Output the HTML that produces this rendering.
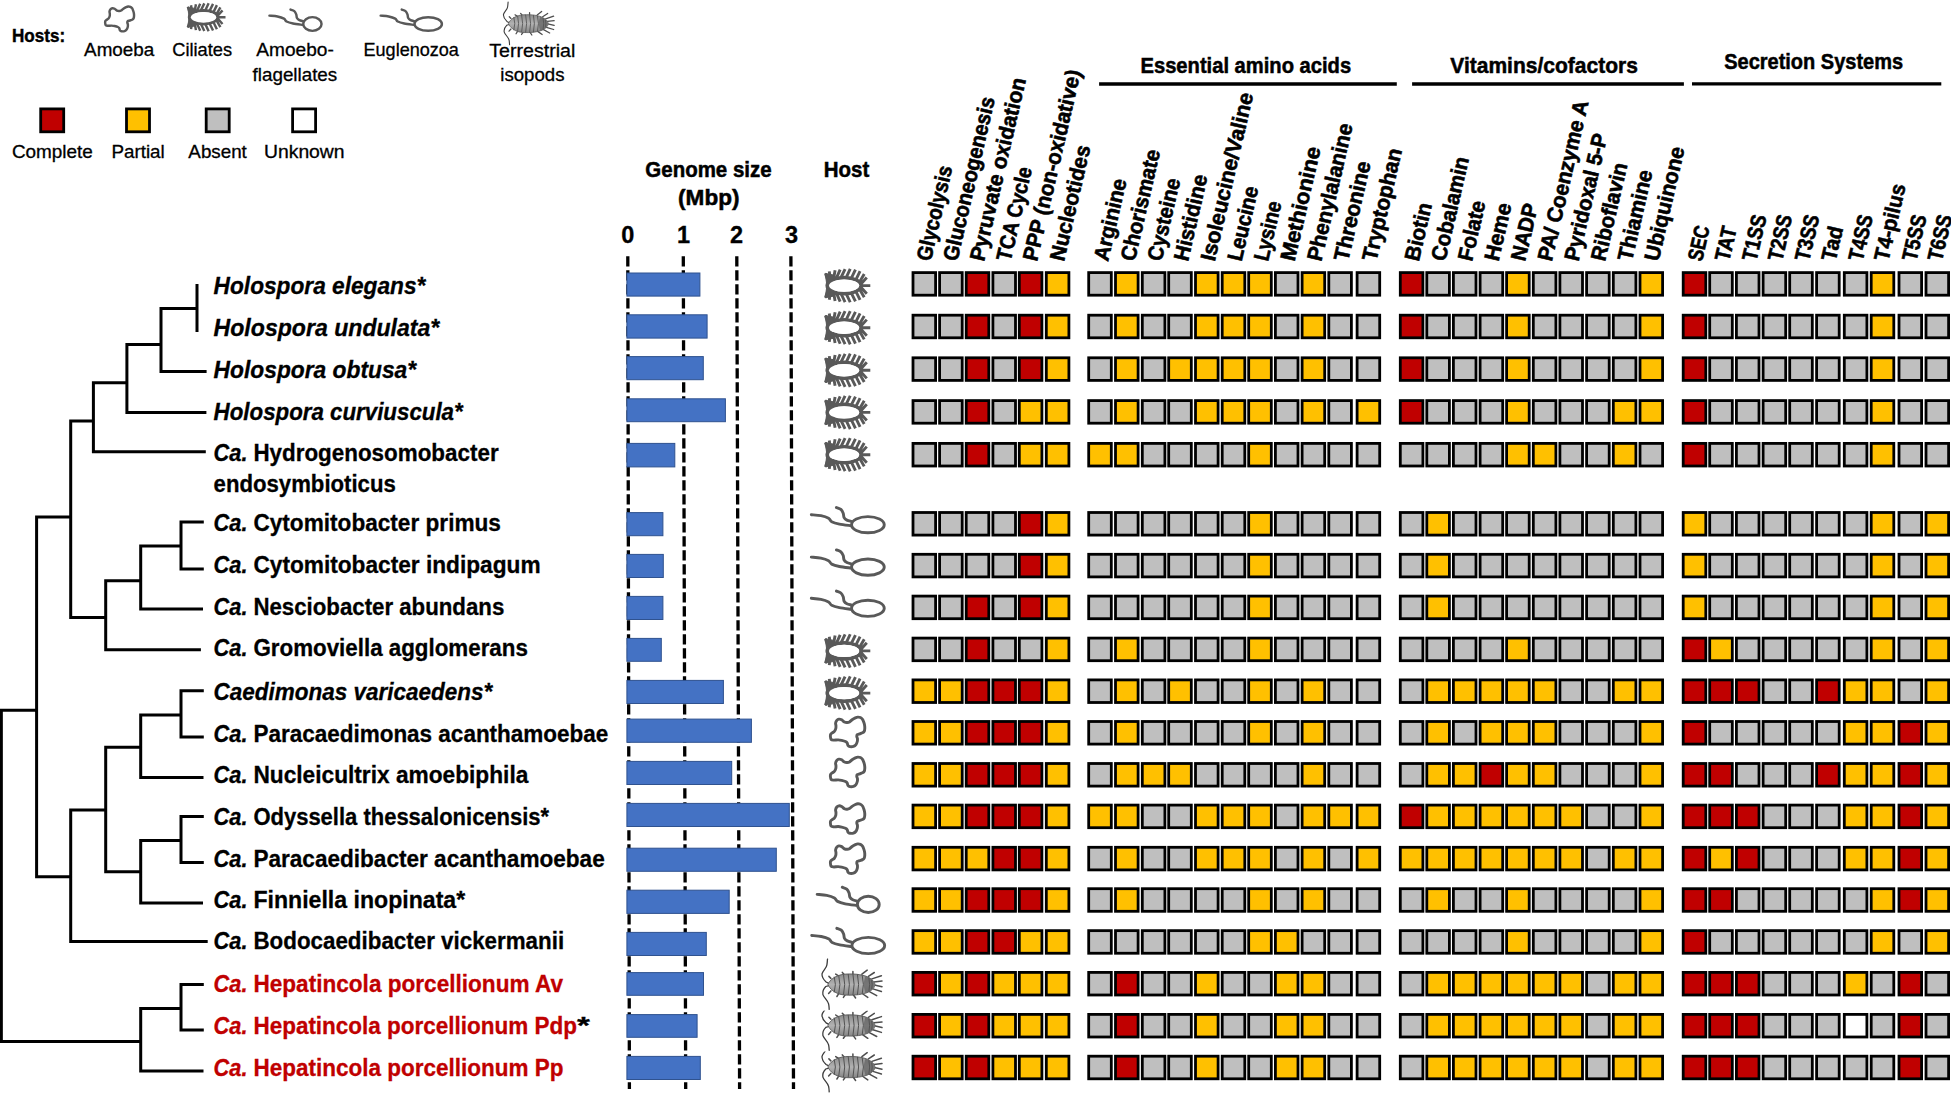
<!DOCTYPE html>
<html lang="en"><head><meta charset="utf-8"><title>Genome size, host and metabolic capability matrix</title>
<style>html,body{margin:0;padding:0;background:#fff}svg{display:block}</style></head>
<body>
<svg width="1951" height="1095" viewBox="0 0 1951 1095" font-family="'Liberation Sans', Arial, sans-serif">
<rect width="1951" height="1095" fill="#fff"/>
<g stroke="#000" stroke-width="2.80">
<rect x="913.00" y="272.60" width="22.60" height="22.60" fill="#BFBFBF"/>
<rect x="939.60" y="272.60" width="22.60" height="22.60" fill="#BFBFBF"/>
<rect x="966.20" y="272.60" width="22.60" height="22.60" fill="#C00000"/>
<rect x="992.90" y="272.60" width="22.60" height="22.60" fill="#BFBFBF"/>
<rect x="1019.30" y="272.60" width="22.60" height="22.60" fill="#C00000"/>
<rect x="1046.30" y="272.60" width="22.60" height="22.60" fill="#FFC000"/>
<rect x="1088.70" y="272.60" width="22.60" height="22.60" fill="#BFBFBF"/>
<rect x="1115.50" y="272.60" width="22.60" height="22.60" fill="#FFC000"/>
<rect x="1142.30" y="272.60" width="22.60" height="22.60" fill="#BFBFBF"/>
<rect x="1168.70" y="272.60" width="22.60" height="22.60" fill="#BFBFBF"/>
<rect x="1195.50" y="272.60" width="22.60" height="22.60" fill="#FFC000"/>
<rect x="1222.20" y="272.60" width="22.60" height="22.60" fill="#FFC000"/>
<rect x="1248.70" y="272.60" width="22.60" height="22.60" fill="#FFC000"/>
<rect x="1275.40" y="272.60" width="22.60" height="22.60" fill="#BFBFBF"/>
<rect x="1302.10" y="272.60" width="22.60" height="22.60" fill="#FFC000"/>
<rect x="1328.80" y="272.60" width="22.60" height="22.60" fill="#BFBFBF"/>
<rect x="1357.10" y="272.60" width="22.60" height="22.60" fill="#BFBFBF"/>
<rect x="1400.30" y="272.60" width="22.60" height="22.60" fill="#C00000"/>
<rect x="1426.80" y="272.60" width="22.60" height="22.60" fill="#BFBFBF"/>
<rect x="1453.40" y="272.60" width="22.60" height="22.60" fill="#BFBFBF"/>
<rect x="1480.10" y="272.60" width="22.60" height="22.60" fill="#BFBFBF"/>
<rect x="1506.60" y="272.60" width="22.60" height="22.60" fill="#FFC000"/>
<rect x="1533.30" y="272.60" width="22.60" height="22.60" fill="#BFBFBF"/>
<rect x="1559.90" y="272.60" width="22.60" height="22.60" fill="#BFBFBF"/>
<rect x="1586.60" y="272.60" width="22.60" height="22.60" fill="#BFBFBF"/>
<rect x="1613.30" y="272.60" width="22.60" height="22.60" fill="#BFBFBF"/>
<rect x="1640.00" y="272.60" width="22.60" height="22.60" fill="#FFC000"/>
<rect x="1683.20" y="272.60" width="22.60" height="22.60" fill="#C00000"/>
<rect x="1709.70" y="272.60" width="22.60" height="22.60" fill="#BFBFBF"/>
<rect x="1736.40" y="272.60" width="22.60" height="22.60" fill="#BFBFBF"/>
<rect x="1763.10" y="272.60" width="22.60" height="22.60" fill="#BFBFBF"/>
<rect x="1789.70" y="272.60" width="22.60" height="22.60" fill="#BFBFBF"/>
<rect x="1816.60" y="272.60" width="22.60" height="22.60" fill="#BFBFBF"/>
<rect x="1844.30" y="272.60" width="22.60" height="22.60" fill="#BFBFBF"/>
<rect x="1871.20" y="272.60" width="22.60" height="22.60" fill="#FFC000"/>
<rect x="1899.00" y="272.60" width="22.60" height="22.60" fill="#BFBFBF"/>
<rect x="1926.00" y="272.60" width="22.60" height="22.60" fill="#BFBFBF"/>
<rect x="913.00" y="315.20" width="22.60" height="22.60" fill="#BFBFBF"/>
<rect x="939.60" y="315.20" width="22.60" height="22.60" fill="#BFBFBF"/>
<rect x="966.20" y="315.20" width="22.60" height="22.60" fill="#C00000"/>
<rect x="992.90" y="315.20" width="22.60" height="22.60" fill="#BFBFBF"/>
<rect x="1019.30" y="315.20" width="22.60" height="22.60" fill="#C00000"/>
<rect x="1046.30" y="315.20" width="22.60" height="22.60" fill="#FFC000"/>
<rect x="1088.70" y="315.20" width="22.60" height="22.60" fill="#BFBFBF"/>
<rect x="1115.50" y="315.20" width="22.60" height="22.60" fill="#FFC000"/>
<rect x="1142.30" y="315.20" width="22.60" height="22.60" fill="#BFBFBF"/>
<rect x="1168.70" y="315.20" width="22.60" height="22.60" fill="#BFBFBF"/>
<rect x="1195.50" y="315.20" width="22.60" height="22.60" fill="#FFC000"/>
<rect x="1222.20" y="315.20" width="22.60" height="22.60" fill="#FFC000"/>
<rect x="1248.70" y="315.20" width="22.60" height="22.60" fill="#FFC000"/>
<rect x="1275.40" y="315.20" width="22.60" height="22.60" fill="#BFBFBF"/>
<rect x="1302.10" y="315.20" width="22.60" height="22.60" fill="#FFC000"/>
<rect x="1328.80" y="315.20" width="22.60" height="22.60" fill="#BFBFBF"/>
<rect x="1357.10" y="315.20" width="22.60" height="22.60" fill="#BFBFBF"/>
<rect x="1400.30" y="315.20" width="22.60" height="22.60" fill="#C00000"/>
<rect x="1426.80" y="315.20" width="22.60" height="22.60" fill="#BFBFBF"/>
<rect x="1453.40" y="315.20" width="22.60" height="22.60" fill="#BFBFBF"/>
<rect x="1480.10" y="315.20" width="22.60" height="22.60" fill="#BFBFBF"/>
<rect x="1506.60" y="315.20" width="22.60" height="22.60" fill="#FFC000"/>
<rect x="1533.30" y="315.20" width="22.60" height="22.60" fill="#BFBFBF"/>
<rect x="1559.90" y="315.20" width="22.60" height="22.60" fill="#BFBFBF"/>
<rect x="1586.60" y="315.20" width="22.60" height="22.60" fill="#BFBFBF"/>
<rect x="1613.30" y="315.20" width="22.60" height="22.60" fill="#BFBFBF"/>
<rect x="1640.00" y="315.20" width="22.60" height="22.60" fill="#FFC000"/>
<rect x="1683.20" y="315.20" width="22.60" height="22.60" fill="#C00000"/>
<rect x="1709.70" y="315.20" width="22.60" height="22.60" fill="#BFBFBF"/>
<rect x="1736.40" y="315.20" width="22.60" height="22.60" fill="#BFBFBF"/>
<rect x="1763.10" y="315.20" width="22.60" height="22.60" fill="#BFBFBF"/>
<rect x="1789.70" y="315.20" width="22.60" height="22.60" fill="#BFBFBF"/>
<rect x="1816.60" y="315.20" width="22.60" height="22.60" fill="#BFBFBF"/>
<rect x="1844.30" y="315.20" width="22.60" height="22.60" fill="#BFBFBF"/>
<rect x="1871.20" y="315.20" width="22.60" height="22.60" fill="#FFC000"/>
<rect x="1899.00" y="315.20" width="22.60" height="22.60" fill="#BFBFBF"/>
<rect x="1926.00" y="315.20" width="22.60" height="22.60" fill="#BFBFBF"/>
<rect x="913.00" y="357.80" width="22.60" height="22.60" fill="#BFBFBF"/>
<rect x="939.60" y="357.80" width="22.60" height="22.60" fill="#BFBFBF"/>
<rect x="966.20" y="357.80" width="22.60" height="22.60" fill="#C00000"/>
<rect x="992.90" y="357.80" width="22.60" height="22.60" fill="#BFBFBF"/>
<rect x="1019.30" y="357.80" width="22.60" height="22.60" fill="#C00000"/>
<rect x="1046.30" y="357.80" width="22.60" height="22.60" fill="#FFC000"/>
<rect x="1088.70" y="357.80" width="22.60" height="22.60" fill="#BFBFBF"/>
<rect x="1115.50" y="357.80" width="22.60" height="22.60" fill="#FFC000"/>
<rect x="1142.30" y="357.80" width="22.60" height="22.60" fill="#BFBFBF"/>
<rect x="1168.70" y="357.80" width="22.60" height="22.60" fill="#FFC000"/>
<rect x="1195.50" y="357.80" width="22.60" height="22.60" fill="#FFC000"/>
<rect x="1222.20" y="357.80" width="22.60" height="22.60" fill="#FFC000"/>
<rect x="1248.70" y="357.80" width="22.60" height="22.60" fill="#FFC000"/>
<rect x="1275.40" y="357.80" width="22.60" height="22.60" fill="#BFBFBF"/>
<rect x="1302.10" y="357.80" width="22.60" height="22.60" fill="#FFC000"/>
<rect x="1328.80" y="357.80" width="22.60" height="22.60" fill="#BFBFBF"/>
<rect x="1357.10" y="357.80" width="22.60" height="22.60" fill="#BFBFBF"/>
<rect x="1400.30" y="357.80" width="22.60" height="22.60" fill="#C00000"/>
<rect x="1426.80" y="357.80" width="22.60" height="22.60" fill="#BFBFBF"/>
<rect x="1453.40" y="357.80" width="22.60" height="22.60" fill="#BFBFBF"/>
<rect x="1480.10" y="357.80" width="22.60" height="22.60" fill="#BFBFBF"/>
<rect x="1506.60" y="357.80" width="22.60" height="22.60" fill="#FFC000"/>
<rect x="1533.30" y="357.80" width="22.60" height="22.60" fill="#BFBFBF"/>
<rect x="1559.90" y="357.80" width="22.60" height="22.60" fill="#BFBFBF"/>
<rect x="1586.60" y="357.80" width="22.60" height="22.60" fill="#BFBFBF"/>
<rect x="1613.30" y="357.80" width="22.60" height="22.60" fill="#BFBFBF"/>
<rect x="1640.00" y="357.80" width="22.60" height="22.60" fill="#FFC000"/>
<rect x="1683.20" y="357.80" width="22.60" height="22.60" fill="#C00000"/>
<rect x="1709.70" y="357.80" width="22.60" height="22.60" fill="#BFBFBF"/>
<rect x="1736.40" y="357.80" width="22.60" height="22.60" fill="#BFBFBF"/>
<rect x="1763.10" y="357.80" width="22.60" height="22.60" fill="#BFBFBF"/>
<rect x="1789.70" y="357.80" width="22.60" height="22.60" fill="#BFBFBF"/>
<rect x="1816.60" y="357.80" width="22.60" height="22.60" fill="#BFBFBF"/>
<rect x="1844.30" y="357.80" width="22.60" height="22.60" fill="#BFBFBF"/>
<rect x="1871.20" y="357.80" width="22.60" height="22.60" fill="#FFC000"/>
<rect x="1899.00" y="357.80" width="22.60" height="22.60" fill="#BFBFBF"/>
<rect x="1926.00" y="357.80" width="22.60" height="22.60" fill="#BFBFBF"/>
<rect x="913.00" y="400.60" width="22.60" height="22.60" fill="#BFBFBF"/>
<rect x="939.60" y="400.60" width="22.60" height="22.60" fill="#BFBFBF"/>
<rect x="966.20" y="400.60" width="22.60" height="22.60" fill="#C00000"/>
<rect x="992.90" y="400.60" width="22.60" height="22.60" fill="#BFBFBF"/>
<rect x="1019.30" y="400.60" width="22.60" height="22.60" fill="#FFC000"/>
<rect x="1046.30" y="400.60" width="22.60" height="22.60" fill="#FFC000"/>
<rect x="1088.70" y="400.60" width="22.60" height="22.60" fill="#BFBFBF"/>
<rect x="1115.50" y="400.60" width="22.60" height="22.60" fill="#FFC000"/>
<rect x="1142.30" y="400.60" width="22.60" height="22.60" fill="#BFBFBF"/>
<rect x="1168.70" y="400.60" width="22.60" height="22.60" fill="#BFBFBF"/>
<rect x="1195.50" y="400.60" width="22.60" height="22.60" fill="#FFC000"/>
<rect x="1222.20" y="400.60" width="22.60" height="22.60" fill="#FFC000"/>
<rect x="1248.70" y="400.60" width="22.60" height="22.60" fill="#FFC000"/>
<rect x="1275.40" y="400.60" width="22.60" height="22.60" fill="#BFBFBF"/>
<rect x="1302.10" y="400.60" width="22.60" height="22.60" fill="#FFC000"/>
<rect x="1328.80" y="400.60" width="22.60" height="22.60" fill="#BFBFBF"/>
<rect x="1357.10" y="400.60" width="22.60" height="22.60" fill="#FFC000"/>
<rect x="1400.30" y="400.60" width="22.60" height="22.60" fill="#C00000"/>
<rect x="1426.80" y="400.60" width="22.60" height="22.60" fill="#BFBFBF"/>
<rect x="1453.40" y="400.60" width="22.60" height="22.60" fill="#BFBFBF"/>
<rect x="1480.10" y="400.60" width="22.60" height="22.60" fill="#BFBFBF"/>
<rect x="1506.60" y="400.60" width="22.60" height="22.60" fill="#FFC000"/>
<rect x="1533.30" y="400.60" width="22.60" height="22.60" fill="#BFBFBF"/>
<rect x="1559.90" y="400.60" width="22.60" height="22.60" fill="#BFBFBF"/>
<rect x="1586.60" y="400.60" width="22.60" height="22.60" fill="#BFBFBF"/>
<rect x="1613.30" y="400.60" width="22.60" height="22.60" fill="#FFC000"/>
<rect x="1640.00" y="400.60" width="22.60" height="22.60" fill="#FFC000"/>
<rect x="1683.20" y="400.60" width="22.60" height="22.60" fill="#C00000"/>
<rect x="1709.70" y="400.60" width="22.60" height="22.60" fill="#BFBFBF"/>
<rect x="1736.40" y="400.60" width="22.60" height="22.60" fill="#BFBFBF"/>
<rect x="1763.10" y="400.60" width="22.60" height="22.60" fill="#BFBFBF"/>
<rect x="1789.70" y="400.60" width="22.60" height="22.60" fill="#BFBFBF"/>
<rect x="1816.60" y="400.60" width="22.60" height="22.60" fill="#BFBFBF"/>
<rect x="1844.30" y="400.60" width="22.60" height="22.60" fill="#BFBFBF"/>
<rect x="1871.20" y="400.60" width="22.60" height="22.60" fill="#FFC000"/>
<rect x="1899.00" y="400.60" width="22.60" height="22.60" fill="#BFBFBF"/>
<rect x="1926.00" y="400.60" width="22.60" height="22.60" fill="#BFBFBF"/>
<rect x="913.00" y="443.40" width="22.60" height="22.60" fill="#BFBFBF"/>
<rect x="939.60" y="443.40" width="22.60" height="22.60" fill="#BFBFBF"/>
<rect x="966.20" y="443.40" width="22.60" height="22.60" fill="#C00000"/>
<rect x="992.90" y="443.40" width="22.60" height="22.60" fill="#BFBFBF"/>
<rect x="1019.30" y="443.40" width="22.60" height="22.60" fill="#FFC000"/>
<rect x="1046.30" y="443.40" width="22.60" height="22.60" fill="#FFC000"/>
<rect x="1088.70" y="443.40" width="22.60" height="22.60" fill="#FFC000"/>
<rect x="1115.50" y="443.40" width="22.60" height="22.60" fill="#FFC000"/>
<rect x="1142.30" y="443.40" width="22.60" height="22.60" fill="#BFBFBF"/>
<rect x="1168.70" y="443.40" width="22.60" height="22.60" fill="#BFBFBF"/>
<rect x="1195.50" y="443.40" width="22.60" height="22.60" fill="#BFBFBF"/>
<rect x="1222.20" y="443.40" width="22.60" height="22.60" fill="#BFBFBF"/>
<rect x="1248.70" y="443.40" width="22.60" height="22.60" fill="#FFC000"/>
<rect x="1275.40" y="443.40" width="22.60" height="22.60" fill="#BFBFBF"/>
<rect x="1302.10" y="443.40" width="22.60" height="22.60" fill="#BFBFBF"/>
<rect x="1328.80" y="443.40" width="22.60" height="22.60" fill="#BFBFBF"/>
<rect x="1357.10" y="443.40" width="22.60" height="22.60" fill="#BFBFBF"/>
<rect x="1400.30" y="443.40" width="22.60" height="22.60" fill="#BFBFBF"/>
<rect x="1426.80" y="443.40" width="22.60" height="22.60" fill="#BFBFBF"/>
<rect x="1453.40" y="443.40" width="22.60" height="22.60" fill="#BFBFBF"/>
<rect x="1480.10" y="443.40" width="22.60" height="22.60" fill="#BFBFBF"/>
<rect x="1506.60" y="443.40" width="22.60" height="22.60" fill="#FFC000"/>
<rect x="1533.30" y="443.40" width="22.60" height="22.60" fill="#FFC000"/>
<rect x="1559.90" y="443.40" width="22.60" height="22.60" fill="#BFBFBF"/>
<rect x="1586.60" y="443.40" width="22.60" height="22.60" fill="#BFBFBF"/>
<rect x="1613.30" y="443.40" width="22.60" height="22.60" fill="#FFC000"/>
<rect x="1640.00" y="443.40" width="22.60" height="22.60" fill="#BFBFBF"/>
<rect x="1683.20" y="443.40" width="22.60" height="22.60" fill="#C00000"/>
<rect x="1709.70" y="443.40" width="22.60" height="22.60" fill="#BFBFBF"/>
<rect x="1736.40" y="443.40" width="22.60" height="22.60" fill="#BFBFBF"/>
<rect x="1763.10" y="443.40" width="22.60" height="22.60" fill="#BFBFBF"/>
<rect x="1789.70" y="443.40" width="22.60" height="22.60" fill="#BFBFBF"/>
<rect x="1816.60" y="443.40" width="22.60" height="22.60" fill="#BFBFBF"/>
<rect x="1844.30" y="443.40" width="22.60" height="22.60" fill="#BFBFBF"/>
<rect x="1871.20" y="443.40" width="22.60" height="22.60" fill="#FFC000"/>
<rect x="1899.00" y="443.40" width="22.60" height="22.60" fill="#BFBFBF"/>
<rect x="1926.00" y="443.40" width="22.60" height="22.60" fill="#BFBFBF"/>
<rect x="913.00" y="512.50" width="22.60" height="22.60" fill="#BFBFBF"/>
<rect x="939.60" y="512.50" width="22.60" height="22.60" fill="#BFBFBF"/>
<rect x="966.20" y="512.50" width="22.60" height="22.60" fill="#BFBFBF"/>
<rect x="992.90" y="512.50" width="22.60" height="22.60" fill="#BFBFBF"/>
<rect x="1019.30" y="512.50" width="22.60" height="22.60" fill="#C00000"/>
<rect x="1046.30" y="512.50" width="22.60" height="22.60" fill="#FFC000"/>
<rect x="1088.70" y="512.50" width="22.60" height="22.60" fill="#BFBFBF"/>
<rect x="1115.50" y="512.50" width="22.60" height="22.60" fill="#BFBFBF"/>
<rect x="1142.30" y="512.50" width="22.60" height="22.60" fill="#BFBFBF"/>
<rect x="1168.70" y="512.50" width="22.60" height="22.60" fill="#BFBFBF"/>
<rect x="1195.50" y="512.50" width="22.60" height="22.60" fill="#BFBFBF"/>
<rect x="1222.20" y="512.50" width="22.60" height="22.60" fill="#BFBFBF"/>
<rect x="1248.70" y="512.50" width="22.60" height="22.60" fill="#FFC000"/>
<rect x="1275.40" y="512.50" width="22.60" height="22.60" fill="#BFBFBF"/>
<rect x="1302.10" y="512.50" width="22.60" height="22.60" fill="#BFBFBF"/>
<rect x="1328.80" y="512.50" width="22.60" height="22.60" fill="#BFBFBF"/>
<rect x="1357.10" y="512.50" width="22.60" height="22.60" fill="#BFBFBF"/>
<rect x="1400.30" y="512.50" width="22.60" height="22.60" fill="#BFBFBF"/>
<rect x="1426.80" y="512.50" width="22.60" height="22.60" fill="#FFC000"/>
<rect x="1453.40" y="512.50" width="22.60" height="22.60" fill="#BFBFBF"/>
<rect x="1480.10" y="512.50" width="22.60" height="22.60" fill="#BFBFBF"/>
<rect x="1506.60" y="512.50" width="22.60" height="22.60" fill="#BFBFBF"/>
<rect x="1533.30" y="512.50" width="22.60" height="22.60" fill="#BFBFBF"/>
<rect x="1559.90" y="512.50" width="22.60" height="22.60" fill="#BFBFBF"/>
<rect x="1586.60" y="512.50" width="22.60" height="22.60" fill="#BFBFBF"/>
<rect x="1613.30" y="512.50" width="22.60" height="22.60" fill="#BFBFBF"/>
<rect x="1640.00" y="512.50" width="22.60" height="22.60" fill="#BFBFBF"/>
<rect x="1683.20" y="512.50" width="22.60" height="22.60" fill="#FFC000"/>
<rect x="1709.70" y="512.50" width="22.60" height="22.60" fill="#BFBFBF"/>
<rect x="1736.40" y="512.50" width="22.60" height="22.60" fill="#BFBFBF"/>
<rect x="1763.10" y="512.50" width="22.60" height="22.60" fill="#BFBFBF"/>
<rect x="1789.70" y="512.50" width="22.60" height="22.60" fill="#BFBFBF"/>
<rect x="1816.60" y="512.50" width="22.60" height="22.60" fill="#BFBFBF"/>
<rect x="1844.30" y="512.50" width="22.60" height="22.60" fill="#BFBFBF"/>
<rect x="1871.20" y="512.50" width="22.60" height="22.60" fill="#FFC000"/>
<rect x="1899.00" y="512.50" width="22.60" height="22.60" fill="#BFBFBF"/>
<rect x="1926.00" y="512.50" width="22.60" height="22.60" fill="#FFC000"/>
<rect x="913.00" y="554.30" width="22.60" height="22.60" fill="#BFBFBF"/>
<rect x="939.60" y="554.30" width="22.60" height="22.60" fill="#BFBFBF"/>
<rect x="966.20" y="554.30" width="22.60" height="22.60" fill="#BFBFBF"/>
<rect x="992.90" y="554.30" width="22.60" height="22.60" fill="#BFBFBF"/>
<rect x="1019.30" y="554.30" width="22.60" height="22.60" fill="#C00000"/>
<rect x="1046.30" y="554.30" width="22.60" height="22.60" fill="#FFC000"/>
<rect x="1088.70" y="554.30" width="22.60" height="22.60" fill="#BFBFBF"/>
<rect x="1115.50" y="554.30" width="22.60" height="22.60" fill="#BFBFBF"/>
<rect x="1142.30" y="554.30" width="22.60" height="22.60" fill="#BFBFBF"/>
<rect x="1168.70" y="554.30" width="22.60" height="22.60" fill="#BFBFBF"/>
<rect x="1195.50" y="554.30" width="22.60" height="22.60" fill="#BFBFBF"/>
<rect x="1222.20" y="554.30" width="22.60" height="22.60" fill="#BFBFBF"/>
<rect x="1248.70" y="554.30" width="22.60" height="22.60" fill="#FFC000"/>
<rect x="1275.40" y="554.30" width="22.60" height="22.60" fill="#BFBFBF"/>
<rect x="1302.10" y="554.30" width="22.60" height="22.60" fill="#BFBFBF"/>
<rect x="1328.80" y="554.30" width="22.60" height="22.60" fill="#BFBFBF"/>
<rect x="1357.10" y="554.30" width="22.60" height="22.60" fill="#BFBFBF"/>
<rect x="1400.30" y="554.30" width="22.60" height="22.60" fill="#BFBFBF"/>
<rect x="1426.80" y="554.30" width="22.60" height="22.60" fill="#FFC000"/>
<rect x="1453.40" y="554.30" width="22.60" height="22.60" fill="#BFBFBF"/>
<rect x="1480.10" y="554.30" width="22.60" height="22.60" fill="#BFBFBF"/>
<rect x="1506.60" y="554.30" width="22.60" height="22.60" fill="#BFBFBF"/>
<rect x="1533.30" y="554.30" width="22.60" height="22.60" fill="#BFBFBF"/>
<rect x="1559.90" y="554.30" width="22.60" height="22.60" fill="#BFBFBF"/>
<rect x="1586.60" y="554.30" width="22.60" height="22.60" fill="#BFBFBF"/>
<rect x="1613.30" y="554.30" width="22.60" height="22.60" fill="#BFBFBF"/>
<rect x="1640.00" y="554.30" width="22.60" height="22.60" fill="#BFBFBF"/>
<rect x="1683.20" y="554.30" width="22.60" height="22.60" fill="#FFC000"/>
<rect x="1709.70" y="554.30" width="22.60" height="22.60" fill="#BFBFBF"/>
<rect x="1736.40" y="554.30" width="22.60" height="22.60" fill="#BFBFBF"/>
<rect x="1763.10" y="554.30" width="22.60" height="22.60" fill="#BFBFBF"/>
<rect x="1789.70" y="554.30" width="22.60" height="22.60" fill="#BFBFBF"/>
<rect x="1816.60" y="554.30" width="22.60" height="22.60" fill="#BFBFBF"/>
<rect x="1844.30" y="554.30" width="22.60" height="22.60" fill="#BFBFBF"/>
<rect x="1871.20" y="554.30" width="22.60" height="22.60" fill="#FFC000"/>
<rect x="1899.00" y="554.30" width="22.60" height="22.60" fill="#BFBFBF"/>
<rect x="1926.00" y="554.30" width="22.60" height="22.60" fill="#FFC000"/>
<rect x="913.00" y="596.10" width="22.60" height="22.60" fill="#BFBFBF"/>
<rect x="939.60" y="596.10" width="22.60" height="22.60" fill="#BFBFBF"/>
<rect x="966.20" y="596.10" width="22.60" height="22.60" fill="#C00000"/>
<rect x="992.90" y="596.10" width="22.60" height="22.60" fill="#BFBFBF"/>
<rect x="1019.30" y="596.10" width="22.60" height="22.60" fill="#C00000"/>
<rect x="1046.30" y="596.10" width="22.60" height="22.60" fill="#FFC000"/>
<rect x="1088.70" y="596.10" width="22.60" height="22.60" fill="#BFBFBF"/>
<rect x="1115.50" y="596.10" width="22.60" height="22.60" fill="#BFBFBF"/>
<rect x="1142.30" y="596.10" width="22.60" height="22.60" fill="#BFBFBF"/>
<rect x="1168.70" y="596.10" width="22.60" height="22.60" fill="#BFBFBF"/>
<rect x="1195.50" y="596.10" width="22.60" height="22.60" fill="#BFBFBF"/>
<rect x="1222.20" y="596.10" width="22.60" height="22.60" fill="#BFBFBF"/>
<rect x="1248.70" y="596.10" width="22.60" height="22.60" fill="#FFC000"/>
<rect x="1275.40" y="596.10" width="22.60" height="22.60" fill="#BFBFBF"/>
<rect x="1302.10" y="596.10" width="22.60" height="22.60" fill="#BFBFBF"/>
<rect x="1328.80" y="596.10" width="22.60" height="22.60" fill="#BFBFBF"/>
<rect x="1357.10" y="596.10" width="22.60" height="22.60" fill="#BFBFBF"/>
<rect x="1400.30" y="596.10" width="22.60" height="22.60" fill="#BFBFBF"/>
<rect x="1426.80" y="596.10" width="22.60" height="22.60" fill="#FFC000"/>
<rect x="1453.40" y="596.10" width="22.60" height="22.60" fill="#BFBFBF"/>
<rect x="1480.10" y="596.10" width="22.60" height="22.60" fill="#BFBFBF"/>
<rect x="1506.60" y="596.10" width="22.60" height="22.60" fill="#BFBFBF"/>
<rect x="1533.30" y="596.10" width="22.60" height="22.60" fill="#BFBFBF"/>
<rect x="1559.90" y="596.10" width="22.60" height="22.60" fill="#BFBFBF"/>
<rect x="1586.60" y="596.10" width="22.60" height="22.60" fill="#BFBFBF"/>
<rect x="1613.30" y="596.10" width="22.60" height="22.60" fill="#BFBFBF"/>
<rect x="1640.00" y="596.10" width="22.60" height="22.60" fill="#BFBFBF"/>
<rect x="1683.20" y="596.10" width="22.60" height="22.60" fill="#FFC000"/>
<rect x="1709.70" y="596.10" width="22.60" height="22.60" fill="#BFBFBF"/>
<rect x="1736.40" y="596.10" width="22.60" height="22.60" fill="#BFBFBF"/>
<rect x="1763.10" y="596.10" width="22.60" height="22.60" fill="#BFBFBF"/>
<rect x="1789.70" y="596.10" width="22.60" height="22.60" fill="#BFBFBF"/>
<rect x="1816.60" y="596.10" width="22.60" height="22.60" fill="#BFBFBF"/>
<rect x="1844.30" y="596.10" width="22.60" height="22.60" fill="#BFBFBF"/>
<rect x="1871.20" y="596.10" width="22.60" height="22.60" fill="#FFC000"/>
<rect x="1899.00" y="596.10" width="22.60" height="22.60" fill="#BFBFBF"/>
<rect x="1926.00" y="596.10" width="22.60" height="22.60" fill="#FFC000"/>
<rect x="913.00" y="638.10" width="22.60" height="22.60" fill="#BFBFBF"/>
<rect x="939.60" y="638.10" width="22.60" height="22.60" fill="#BFBFBF"/>
<rect x="966.20" y="638.10" width="22.60" height="22.60" fill="#C00000"/>
<rect x="992.90" y="638.10" width="22.60" height="22.60" fill="#BFBFBF"/>
<rect x="1019.30" y="638.10" width="22.60" height="22.60" fill="#BFBFBF"/>
<rect x="1046.30" y="638.10" width="22.60" height="22.60" fill="#FFC000"/>
<rect x="1088.70" y="638.10" width="22.60" height="22.60" fill="#BFBFBF"/>
<rect x="1115.50" y="638.10" width="22.60" height="22.60" fill="#FFC000"/>
<rect x="1142.30" y="638.10" width="22.60" height="22.60" fill="#BFBFBF"/>
<rect x="1168.70" y="638.10" width="22.60" height="22.60" fill="#BFBFBF"/>
<rect x="1195.50" y="638.10" width="22.60" height="22.60" fill="#BFBFBF"/>
<rect x="1222.20" y="638.10" width="22.60" height="22.60" fill="#BFBFBF"/>
<rect x="1248.70" y="638.10" width="22.60" height="22.60" fill="#FFC000"/>
<rect x="1275.40" y="638.10" width="22.60" height="22.60" fill="#BFBFBF"/>
<rect x="1302.10" y="638.10" width="22.60" height="22.60" fill="#BFBFBF"/>
<rect x="1328.80" y="638.10" width="22.60" height="22.60" fill="#BFBFBF"/>
<rect x="1357.10" y="638.10" width="22.60" height="22.60" fill="#BFBFBF"/>
<rect x="1400.30" y="638.10" width="22.60" height="22.60" fill="#BFBFBF"/>
<rect x="1426.80" y="638.10" width="22.60" height="22.60" fill="#BFBFBF"/>
<rect x="1453.40" y="638.10" width="22.60" height="22.60" fill="#BFBFBF"/>
<rect x="1480.10" y="638.10" width="22.60" height="22.60" fill="#BFBFBF"/>
<rect x="1506.60" y="638.10" width="22.60" height="22.60" fill="#FFC000"/>
<rect x="1533.30" y="638.10" width="22.60" height="22.60" fill="#BFBFBF"/>
<rect x="1559.90" y="638.10" width="22.60" height="22.60" fill="#BFBFBF"/>
<rect x="1586.60" y="638.10" width="22.60" height="22.60" fill="#BFBFBF"/>
<rect x="1613.30" y="638.10" width="22.60" height="22.60" fill="#BFBFBF"/>
<rect x="1640.00" y="638.10" width="22.60" height="22.60" fill="#BFBFBF"/>
<rect x="1683.20" y="638.10" width="22.60" height="22.60" fill="#C00000"/>
<rect x="1709.70" y="638.10" width="22.60" height="22.60" fill="#FFC000"/>
<rect x="1736.40" y="638.10" width="22.60" height="22.60" fill="#BFBFBF"/>
<rect x="1763.10" y="638.10" width="22.60" height="22.60" fill="#BFBFBF"/>
<rect x="1789.70" y="638.10" width="22.60" height="22.60" fill="#BFBFBF"/>
<rect x="1816.60" y="638.10" width="22.60" height="22.60" fill="#BFBFBF"/>
<rect x="1844.30" y="638.10" width="22.60" height="22.60" fill="#BFBFBF"/>
<rect x="1871.20" y="638.10" width="22.60" height="22.60" fill="#FFC000"/>
<rect x="1899.00" y="638.10" width="22.60" height="22.60" fill="#BFBFBF"/>
<rect x="1926.00" y="638.10" width="22.60" height="22.60" fill="#FFC000"/>
<rect x="913.00" y="679.90" width="22.60" height="22.60" fill="#FFC000"/>
<rect x="939.60" y="679.90" width="22.60" height="22.60" fill="#FFC000"/>
<rect x="966.20" y="679.90" width="22.60" height="22.60" fill="#C00000"/>
<rect x="992.90" y="679.90" width="22.60" height="22.60" fill="#C00000"/>
<rect x="1019.30" y="679.90" width="22.60" height="22.60" fill="#C00000"/>
<rect x="1046.30" y="679.90" width="22.60" height="22.60" fill="#FFC000"/>
<rect x="1088.70" y="679.90" width="22.60" height="22.60" fill="#BFBFBF"/>
<rect x="1115.50" y="679.90" width="22.60" height="22.60" fill="#FFC000"/>
<rect x="1142.30" y="679.90" width="22.60" height="22.60" fill="#BFBFBF"/>
<rect x="1168.70" y="679.90" width="22.60" height="22.60" fill="#FFC000"/>
<rect x="1195.50" y="679.90" width="22.60" height="22.60" fill="#BFBFBF"/>
<rect x="1222.20" y="679.90" width="22.60" height="22.60" fill="#BFBFBF"/>
<rect x="1248.70" y="679.90" width="22.60" height="22.60" fill="#FFC000"/>
<rect x="1275.40" y="679.90" width="22.60" height="22.60" fill="#BFBFBF"/>
<rect x="1302.10" y="679.90" width="22.60" height="22.60" fill="#FFC000"/>
<rect x="1328.80" y="679.90" width="22.60" height="22.60" fill="#BFBFBF"/>
<rect x="1357.10" y="679.90" width="22.60" height="22.60" fill="#BFBFBF"/>
<rect x="1400.30" y="679.90" width="22.60" height="22.60" fill="#BFBFBF"/>
<rect x="1426.80" y="679.90" width="22.60" height="22.60" fill="#FFC000"/>
<rect x="1453.40" y="679.90" width="22.60" height="22.60" fill="#FFC000"/>
<rect x="1480.10" y="679.90" width="22.60" height="22.60" fill="#FFC000"/>
<rect x="1506.60" y="679.90" width="22.60" height="22.60" fill="#FFC000"/>
<rect x="1533.30" y="679.90" width="22.60" height="22.60" fill="#FFC000"/>
<rect x="1559.90" y="679.90" width="22.60" height="22.60" fill="#BFBFBF"/>
<rect x="1586.60" y="679.90" width="22.60" height="22.60" fill="#BFBFBF"/>
<rect x="1613.30" y="679.90" width="22.60" height="22.60" fill="#FFC000"/>
<rect x="1640.00" y="679.90" width="22.60" height="22.60" fill="#FFC000"/>
<rect x="1683.20" y="679.90" width="22.60" height="22.60" fill="#C00000"/>
<rect x="1709.70" y="679.90" width="22.60" height="22.60" fill="#C00000"/>
<rect x="1736.40" y="679.90" width="22.60" height="22.60" fill="#C00000"/>
<rect x="1763.10" y="679.90" width="22.60" height="22.60" fill="#BFBFBF"/>
<rect x="1789.70" y="679.90" width="22.60" height="22.60" fill="#BFBFBF"/>
<rect x="1816.60" y="679.90" width="22.60" height="22.60" fill="#C00000"/>
<rect x="1844.30" y="679.90" width="22.60" height="22.60" fill="#FFC000"/>
<rect x="1871.20" y="679.90" width="22.60" height="22.60" fill="#FFC000"/>
<rect x="1899.00" y="679.90" width="22.60" height="22.60" fill="#BFBFBF"/>
<rect x="1926.00" y="679.90" width="22.60" height="22.60" fill="#FFC000"/>
<rect x="913.00" y="721.50" width="22.60" height="22.60" fill="#FFC000"/>
<rect x="939.60" y="721.50" width="22.60" height="22.60" fill="#FFC000"/>
<rect x="966.20" y="721.50" width="22.60" height="22.60" fill="#C00000"/>
<rect x="992.90" y="721.50" width="22.60" height="22.60" fill="#C00000"/>
<rect x="1019.30" y="721.50" width="22.60" height="22.60" fill="#C00000"/>
<rect x="1046.30" y="721.50" width="22.60" height="22.60" fill="#FFC000"/>
<rect x="1088.70" y="721.50" width="22.60" height="22.60" fill="#BFBFBF"/>
<rect x="1115.50" y="721.50" width="22.60" height="22.60" fill="#FFC000"/>
<rect x="1142.30" y="721.50" width="22.60" height="22.60" fill="#BFBFBF"/>
<rect x="1168.70" y="721.50" width="22.60" height="22.60" fill="#BFBFBF"/>
<rect x="1195.50" y="721.50" width="22.60" height="22.60" fill="#BFBFBF"/>
<rect x="1222.20" y="721.50" width="22.60" height="22.60" fill="#BFBFBF"/>
<rect x="1248.70" y="721.50" width="22.60" height="22.60" fill="#FFC000"/>
<rect x="1275.40" y="721.50" width="22.60" height="22.60" fill="#BFBFBF"/>
<rect x="1302.10" y="721.50" width="22.60" height="22.60" fill="#FFC000"/>
<rect x="1328.80" y="721.50" width="22.60" height="22.60" fill="#BFBFBF"/>
<rect x="1357.10" y="721.50" width="22.60" height="22.60" fill="#BFBFBF"/>
<rect x="1400.30" y="721.50" width="22.60" height="22.60" fill="#BFBFBF"/>
<rect x="1426.80" y="721.50" width="22.60" height="22.60" fill="#FFC000"/>
<rect x="1453.40" y="721.50" width="22.60" height="22.60" fill="#BFBFBF"/>
<rect x="1480.10" y="721.50" width="22.60" height="22.60" fill="#FFC000"/>
<rect x="1506.60" y="721.50" width="22.60" height="22.60" fill="#FFC000"/>
<rect x="1533.30" y="721.50" width="22.60" height="22.60" fill="#FFC000"/>
<rect x="1559.90" y="721.50" width="22.60" height="22.60" fill="#BFBFBF"/>
<rect x="1586.60" y="721.50" width="22.60" height="22.60" fill="#BFBFBF"/>
<rect x="1613.30" y="721.50" width="22.60" height="22.60" fill="#BFBFBF"/>
<rect x="1640.00" y="721.50" width="22.60" height="22.60" fill="#FFC000"/>
<rect x="1683.20" y="721.50" width="22.60" height="22.60" fill="#C00000"/>
<rect x="1709.70" y="721.50" width="22.60" height="22.60" fill="#BFBFBF"/>
<rect x="1736.40" y="721.50" width="22.60" height="22.60" fill="#BFBFBF"/>
<rect x="1763.10" y="721.50" width="22.60" height="22.60" fill="#BFBFBF"/>
<rect x="1789.70" y="721.50" width="22.60" height="22.60" fill="#BFBFBF"/>
<rect x="1816.60" y="721.50" width="22.60" height="22.60" fill="#BFBFBF"/>
<rect x="1844.30" y="721.50" width="22.60" height="22.60" fill="#FFC000"/>
<rect x="1871.20" y="721.50" width="22.60" height="22.60" fill="#FFC000"/>
<rect x="1899.00" y="721.50" width="22.60" height="22.60" fill="#C00000"/>
<rect x="1926.00" y="721.50" width="22.60" height="22.60" fill="#FFC000"/>
<rect x="913.00" y="763.50" width="22.60" height="22.60" fill="#FFC000"/>
<rect x="939.60" y="763.50" width="22.60" height="22.60" fill="#FFC000"/>
<rect x="966.20" y="763.50" width="22.60" height="22.60" fill="#C00000"/>
<rect x="992.90" y="763.50" width="22.60" height="22.60" fill="#C00000"/>
<rect x="1019.30" y="763.50" width="22.60" height="22.60" fill="#C00000"/>
<rect x="1046.30" y="763.50" width="22.60" height="22.60" fill="#FFC000"/>
<rect x="1088.70" y="763.50" width="22.60" height="22.60" fill="#BFBFBF"/>
<rect x="1115.50" y="763.50" width="22.60" height="22.60" fill="#FFC000"/>
<rect x="1142.30" y="763.50" width="22.60" height="22.60" fill="#FFC000"/>
<rect x="1168.70" y="763.50" width="22.60" height="22.60" fill="#FFC000"/>
<rect x="1195.50" y="763.50" width="22.60" height="22.60" fill="#BFBFBF"/>
<rect x="1222.20" y="763.50" width="22.60" height="22.60" fill="#BFBFBF"/>
<rect x="1248.70" y="763.50" width="22.60" height="22.60" fill="#BFBFBF"/>
<rect x="1275.40" y="763.50" width="22.60" height="22.60" fill="#BFBFBF"/>
<rect x="1302.10" y="763.50" width="22.60" height="22.60" fill="#FFC000"/>
<rect x="1328.80" y="763.50" width="22.60" height="22.60" fill="#BFBFBF"/>
<rect x="1357.10" y="763.50" width="22.60" height="22.60" fill="#BFBFBF"/>
<rect x="1400.30" y="763.50" width="22.60" height="22.60" fill="#BFBFBF"/>
<rect x="1426.80" y="763.50" width="22.60" height="22.60" fill="#FFC000"/>
<rect x="1453.40" y="763.50" width="22.60" height="22.60" fill="#FFC000"/>
<rect x="1480.10" y="763.50" width="22.60" height="22.60" fill="#C00000"/>
<rect x="1506.60" y="763.50" width="22.60" height="22.60" fill="#FFC000"/>
<rect x="1533.30" y="763.50" width="22.60" height="22.60" fill="#FFC000"/>
<rect x="1559.90" y="763.50" width="22.60" height="22.60" fill="#BFBFBF"/>
<rect x="1586.60" y="763.50" width="22.60" height="22.60" fill="#BFBFBF"/>
<rect x="1613.30" y="763.50" width="22.60" height="22.60" fill="#BFBFBF"/>
<rect x="1640.00" y="763.50" width="22.60" height="22.60" fill="#FFC000"/>
<rect x="1683.20" y="763.50" width="22.60" height="22.60" fill="#C00000"/>
<rect x="1709.70" y="763.50" width="22.60" height="22.60" fill="#C00000"/>
<rect x="1736.40" y="763.50" width="22.60" height="22.60" fill="#BFBFBF"/>
<rect x="1763.10" y="763.50" width="22.60" height="22.60" fill="#BFBFBF"/>
<rect x="1789.70" y="763.50" width="22.60" height="22.60" fill="#BFBFBF"/>
<rect x="1816.60" y="763.50" width="22.60" height="22.60" fill="#C00000"/>
<rect x="1844.30" y="763.50" width="22.60" height="22.60" fill="#FFC000"/>
<rect x="1871.20" y="763.50" width="22.60" height="22.60" fill="#FFC000"/>
<rect x="1899.00" y="763.50" width="22.60" height="22.60" fill="#C00000"/>
<rect x="1926.00" y="763.50" width="22.60" height="22.60" fill="#FFC000"/>
<rect x="913.00" y="805.10" width="22.60" height="22.60" fill="#FFC000"/>
<rect x="939.60" y="805.10" width="22.60" height="22.60" fill="#FFC000"/>
<rect x="966.20" y="805.10" width="22.60" height="22.60" fill="#C00000"/>
<rect x="992.90" y="805.10" width="22.60" height="22.60" fill="#C00000"/>
<rect x="1019.30" y="805.10" width="22.60" height="22.60" fill="#C00000"/>
<rect x="1046.30" y="805.10" width="22.60" height="22.60" fill="#FFC000"/>
<rect x="1088.70" y="805.10" width="22.60" height="22.60" fill="#FFC000"/>
<rect x="1115.50" y="805.10" width="22.60" height="22.60" fill="#FFC000"/>
<rect x="1142.30" y="805.10" width="22.60" height="22.60" fill="#BFBFBF"/>
<rect x="1168.70" y="805.10" width="22.60" height="22.60" fill="#BFBFBF"/>
<rect x="1195.50" y="805.10" width="22.60" height="22.60" fill="#FFC000"/>
<rect x="1222.20" y="805.10" width="22.60" height="22.60" fill="#FFC000"/>
<rect x="1248.70" y="805.10" width="22.60" height="22.60" fill="#FFC000"/>
<rect x="1275.40" y="805.10" width="22.60" height="22.60" fill="#BFBFBF"/>
<rect x="1302.10" y="805.10" width="22.60" height="22.60" fill="#FFC000"/>
<rect x="1328.80" y="805.10" width="22.60" height="22.60" fill="#FFC000"/>
<rect x="1357.10" y="805.10" width="22.60" height="22.60" fill="#FFC000"/>
<rect x="1400.30" y="805.10" width="22.60" height="22.60" fill="#C00000"/>
<rect x="1426.80" y="805.10" width="22.60" height="22.60" fill="#FFC000"/>
<rect x="1453.40" y="805.10" width="22.60" height="22.60" fill="#FFC000"/>
<rect x="1480.10" y="805.10" width="22.60" height="22.60" fill="#FFC000"/>
<rect x="1506.60" y="805.10" width="22.60" height="22.60" fill="#FFC000"/>
<rect x="1533.30" y="805.10" width="22.60" height="22.60" fill="#FFC000"/>
<rect x="1559.90" y="805.10" width="22.60" height="22.60" fill="#FFC000"/>
<rect x="1586.60" y="805.10" width="22.60" height="22.60" fill="#BFBFBF"/>
<rect x="1613.30" y="805.10" width="22.60" height="22.60" fill="#BFBFBF"/>
<rect x="1640.00" y="805.10" width="22.60" height="22.60" fill="#FFC000"/>
<rect x="1683.20" y="805.10" width="22.60" height="22.60" fill="#C00000"/>
<rect x="1709.70" y="805.10" width="22.60" height="22.60" fill="#C00000"/>
<rect x="1736.40" y="805.10" width="22.60" height="22.60" fill="#C00000"/>
<rect x="1763.10" y="805.10" width="22.60" height="22.60" fill="#BFBFBF"/>
<rect x="1789.70" y="805.10" width="22.60" height="22.60" fill="#BFBFBF"/>
<rect x="1816.60" y="805.10" width="22.60" height="22.60" fill="#BFBFBF"/>
<rect x="1844.30" y="805.10" width="22.60" height="22.60" fill="#FFC000"/>
<rect x="1871.20" y="805.10" width="22.60" height="22.60" fill="#FFC000"/>
<rect x="1899.00" y="805.10" width="22.60" height="22.60" fill="#C00000"/>
<rect x="1926.00" y="805.10" width="22.60" height="22.60" fill="#FFC000"/>
<rect x="913.00" y="847.30" width="22.60" height="22.60" fill="#FFC000"/>
<rect x="939.60" y="847.30" width="22.60" height="22.60" fill="#FFC000"/>
<rect x="966.20" y="847.30" width="22.60" height="22.60" fill="#FFC000"/>
<rect x="992.90" y="847.30" width="22.60" height="22.60" fill="#C00000"/>
<rect x="1019.30" y="847.30" width="22.60" height="22.60" fill="#C00000"/>
<rect x="1046.30" y="847.30" width="22.60" height="22.60" fill="#FFC000"/>
<rect x="1088.70" y="847.30" width="22.60" height="22.60" fill="#BFBFBF"/>
<rect x="1115.50" y="847.30" width="22.60" height="22.60" fill="#FFC000"/>
<rect x="1142.30" y="847.30" width="22.60" height="22.60" fill="#BFBFBF"/>
<rect x="1168.70" y="847.30" width="22.60" height="22.60" fill="#BFBFBF"/>
<rect x="1195.50" y="847.30" width="22.60" height="22.60" fill="#FFC000"/>
<rect x="1222.20" y="847.30" width="22.60" height="22.60" fill="#FFC000"/>
<rect x="1248.70" y="847.30" width="22.60" height="22.60" fill="#FFC000"/>
<rect x="1275.40" y="847.30" width="22.60" height="22.60" fill="#BFBFBF"/>
<rect x="1302.10" y="847.30" width="22.60" height="22.60" fill="#FFC000"/>
<rect x="1328.80" y="847.30" width="22.60" height="22.60" fill="#BFBFBF"/>
<rect x="1357.10" y="847.30" width="22.60" height="22.60" fill="#FFC000"/>
<rect x="1400.30" y="847.30" width="22.60" height="22.60" fill="#FFC000"/>
<rect x="1426.80" y="847.30" width="22.60" height="22.60" fill="#FFC000"/>
<rect x="1453.40" y="847.30" width="22.60" height="22.60" fill="#FFC000"/>
<rect x="1480.10" y="847.30" width="22.60" height="22.60" fill="#FFC000"/>
<rect x="1506.60" y="847.30" width="22.60" height="22.60" fill="#FFC000"/>
<rect x="1533.30" y="847.30" width="22.60" height="22.60" fill="#FFC000"/>
<rect x="1559.90" y="847.30" width="22.60" height="22.60" fill="#FFC000"/>
<rect x="1586.60" y="847.30" width="22.60" height="22.60" fill="#BFBFBF"/>
<rect x="1613.30" y="847.30" width="22.60" height="22.60" fill="#FFC000"/>
<rect x="1640.00" y="847.30" width="22.60" height="22.60" fill="#FFC000"/>
<rect x="1683.20" y="847.30" width="22.60" height="22.60" fill="#C00000"/>
<rect x="1709.70" y="847.30" width="22.60" height="22.60" fill="#FFC000"/>
<rect x="1736.40" y="847.30" width="22.60" height="22.60" fill="#C00000"/>
<rect x="1763.10" y="847.30" width="22.60" height="22.60" fill="#BFBFBF"/>
<rect x="1789.70" y="847.30" width="22.60" height="22.60" fill="#BFBFBF"/>
<rect x="1816.60" y="847.30" width="22.60" height="22.60" fill="#BFBFBF"/>
<rect x="1844.30" y="847.30" width="22.60" height="22.60" fill="#FFC000"/>
<rect x="1871.20" y="847.30" width="22.60" height="22.60" fill="#FFC000"/>
<rect x="1899.00" y="847.30" width="22.60" height="22.60" fill="#C00000"/>
<rect x="1926.00" y="847.30" width="22.60" height="22.60" fill="#FFC000"/>
<rect x="913.00" y="888.70" width="22.60" height="22.60" fill="#FFC000"/>
<rect x="939.60" y="888.70" width="22.60" height="22.60" fill="#FFC000"/>
<rect x="966.20" y="888.70" width="22.60" height="22.60" fill="#C00000"/>
<rect x="992.90" y="888.70" width="22.60" height="22.60" fill="#C00000"/>
<rect x="1019.30" y="888.70" width="22.60" height="22.60" fill="#C00000"/>
<rect x="1046.30" y="888.70" width="22.60" height="22.60" fill="#FFC000"/>
<rect x="1088.70" y="888.70" width="22.60" height="22.60" fill="#BFBFBF"/>
<rect x="1115.50" y="888.70" width="22.60" height="22.60" fill="#FFC000"/>
<rect x="1142.30" y="888.70" width="22.60" height="22.60" fill="#BFBFBF"/>
<rect x="1168.70" y="888.70" width="22.60" height="22.60" fill="#BFBFBF"/>
<rect x="1195.50" y="888.70" width="22.60" height="22.60" fill="#BFBFBF"/>
<rect x="1222.20" y="888.70" width="22.60" height="22.60" fill="#BFBFBF"/>
<rect x="1248.70" y="888.70" width="22.60" height="22.60" fill="#FFC000"/>
<rect x="1275.40" y="888.70" width="22.60" height="22.60" fill="#BFBFBF"/>
<rect x="1302.10" y="888.70" width="22.60" height="22.60" fill="#FFC000"/>
<rect x="1328.80" y="888.70" width="22.60" height="22.60" fill="#BFBFBF"/>
<rect x="1357.10" y="888.70" width="22.60" height="22.60" fill="#BFBFBF"/>
<rect x="1400.30" y="888.70" width="22.60" height="22.60" fill="#BFBFBF"/>
<rect x="1426.80" y="888.70" width="22.60" height="22.60" fill="#FFC000"/>
<rect x="1453.40" y="888.70" width="22.60" height="22.60" fill="#BFBFBF"/>
<rect x="1480.10" y="888.70" width="22.60" height="22.60" fill="#BFBFBF"/>
<rect x="1506.60" y="888.70" width="22.60" height="22.60" fill="#FFC000"/>
<rect x="1533.30" y="888.70" width="22.60" height="22.60" fill="#BFBFBF"/>
<rect x="1559.90" y="888.70" width="22.60" height="22.60" fill="#BFBFBF"/>
<rect x="1586.60" y="888.70" width="22.60" height="22.60" fill="#BFBFBF"/>
<rect x="1613.30" y="888.70" width="22.60" height="22.60" fill="#BFBFBF"/>
<rect x="1640.00" y="888.70" width="22.60" height="22.60" fill="#FFC000"/>
<rect x="1683.20" y="888.70" width="22.60" height="22.60" fill="#C00000"/>
<rect x="1709.70" y="888.70" width="22.60" height="22.60" fill="#C00000"/>
<rect x="1736.40" y="888.70" width="22.60" height="22.60" fill="#BFBFBF"/>
<rect x="1763.10" y="888.70" width="22.60" height="22.60" fill="#BFBFBF"/>
<rect x="1789.70" y="888.70" width="22.60" height="22.60" fill="#BFBFBF"/>
<rect x="1816.60" y="888.70" width="22.60" height="22.60" fill="#BFBFBF"/>
<rect x="1844.30" y="888.70" width="22.60" height="22.60" fill="#BFBFBF"/>
<rect x="1871.20" y="888.70" width="22.60" height="22.60" fill="#FFC000"/>
<rect x="1899.00" y="888.70" width="22.60" height="22.60" fill="#C00000"/>
<rect x="1926.00" y="888.70" width="22.60" height="22.60" fill="#FFC000"/>
<rect x="913.00" y="930.65" width="22.60" height="22.60" fill="#FFC000"/>
<rect x="939.60" y="930.65" width="22.60" height="22.60" fill="#FFC000"/>
<rect x="966.20" y="930.65" width="22.60" height="22.60" fill="#C00000"/>
<rect x="992.90" y="930.65" width="22.60" height="22.60" fill="#C00000"/>
<rect x="1019.30" y="930.65" width="22.60" height="22.60" fill="#FFC000"/>
<rect x="1046.30" y="930.65" width="22.60" height="22.60" fill="#FFC000"/>
<rect x="1088.70" y="930.65" width="22.60" height="22.60" fill="#BFBFBF"/>
<rect x="1115.50" y="930.65" width="22.60" height="22.60" fill="#BFBFBF"/>
<rect x="1142.30" y="930.65" width="22.60" height="22.60" fill="#BFBFBF"/>
<rect x="1168.70" y="930.65" width="22.60" height="22.60" fill="#BFBFBF"/>
<rect x="1195.50" y="930.65" width="22.60" height="22.60" fill="#BFBFBF"/>
<rect x="1222.20" y="930.65" width="22.60" height="22.60" fill="#BFBFBF"/>
<rect x="1248.70" y="930.65" width="22.60" height="22.60" fill="#FFC000"/>
<rect x="1275.40" y="930.65" width="22.60" height="22.60" fill="#FFC000"/>
<rect x="1302.10" y="930.65" width="22.60" height="22.60" fill="#BFBFBF"/>
<rect x="1328.80" y="930.65" width="22.60" height="22.60" fill="#BFBFBF"/>
<rect x="1357.10" y="930.65" width="22.60" height="22.60" fill="#BFBFBF"/>
<rect x="1400.30" y="930.65" width="22.60" height="22.60" fill="#BFBFBF"/>
<rect x="1426.80" y="930.65" width="22.60" height="22.60" fill="#BFBFBF"/>
<rect x="1453.40" y="930.65" width="22.60" height="22.60" fill="#BFBFBF"/>
<rect x="1480.10" y="930.65" width="22.60" height="22.60" fill="#BFBFBF"/>
<rect x="1506.60" y="930.65" width="22.60" height="22.60" fill="#FFC000"/>
<rect x="1533.30" y="930.65" width="22.60" height="22.60" fill="#BFBFBF"/>
<rect x="1559.90" y="930.65" width="22.60" height="22.60" fill="#BFBFBF"/>
<rect x="1586.60" y="930.65" width="22.60" height="22.60" fill="#BFBFBF"/>
<rect x="1613.30" y="930.65" width="22.60" height="22.60" fill="#BFBFBF"/>
<rect x="1640.00" y="930.65" width="22.60" height="22.60" fill="#FFC000"/>
<rect x="1683.20" y="930.65" width="22.60" height="22.60" fill="#C00000"/>
<rect x="1709.70" y="930.65" width="22.60" height="22.60" fill="#BFBFBF"/>
<rect x="1736.40" y="930.65" width="22.60" height="22.60" fill="#BFBFBF"/>
<rect x="1763.10" y="930.65" width="22.60" height="22.60" fill="#BFBFBF"/>
<rect x="1789.70" y="930.65" width="22.60" height="22.60" fill="#BFBFBF"/>
<rect x="1816.60" y="930.65" width="22.60" height="22.60" fill="#BFBFBF"/>
<rect x="1844.30" y="930.65" width="22.60" height="22.60" fill="#BFBFBF"/>
<rect x="1871.20" y="930.65" width="22.60" height="22.60" fill="#FFC000"/>
<rect x="1899.00" y="930.65" width="22.60" height="22.60" fill="#BFBFBF"/>
<rect x="1926.00" y="930.65" width="22.60" height="22.60" fill="#FFC000"/>
<rect x="913.00" y="972.40" width="22.60" height="22.60" fill="#C00000"/>
<rect x="939.60" y="972.40" width="22.60" height="22.60" fill="#FFC000"/>
<rect x="966.20" y="972.40" width="22.60" height="22.60" fill="#C00000"/>
<rect x="992.90" y="972.40" width="22.60" height="22.60" fill="#FFC000"/>
<rect x="1019.30" y="972.40" width="22.60" height="22.60" fill="#FFC000"/>
<rect x="1046.30" y="972.40" width="22.60" height="22.60" fill="#FFC000"/>
<rect x="1088.70" y="972.40" width="22.60" height="22.60" fill="#BFBFBF"/>
<rect x="1115.50" y="972.40" width="22.60" height="22.60" fill="#C00000"/>
<rect x="1142.30" y="972.40" width="22.60" height="22.60" fill="#BFBFBF"/>
<rect x="1168.70" y="972.40" width="22.60" height="22.60" fill="#BFBFBF"/>
<rect x="1195.50" y="972.40" width="22.60" height="22.60" fill="#FFC000"/>
<rect x="1222.20" y="972.40" width="22.60" height="22.60" fill="#BFBFBF"/>
<rect x="1248.70" y="972.40" width="22.60" height="22.60" fill="#BFBFBF"/>
<rect x="1275.40" y="972.40" width="22.60" height="22.60" fill="#FFC000"/>
<rect x="1302.10" y="972.40" width="22.60" height="22.60" fill="#FFC000"/>
<rect x="1328.80" y="972.40" width="22.60" height="22.60" fill="#BFBFBF"/>
<rect x="1357.10" y="972.40" width="22.60" height="22.60" fill="#BFBFBF"/>
<rect x="1400.30" y="972.40" width="22.60" height="22.60" fill="#BFBFBF"/>
<rect x="1426.80" y="972.40" width="22.60" height="22.60" fill="#FFC000"/>
<rect x="1453.40" y="972.40" width="22.60" height="22.60" fill="#FFC000"/>
<rect x="1480.10" y="972.40" width="22.60" height="22.60" fill="#FFC000"/>
<rect x="1506.60" y="972.40" width="22.60" height="22.60" fill="#FFC000"/>
<rect x="1533.30" y="972.40" width="22.60" height="22.60" fill="#FFC000"/>
<rect x="1559.90" y="972.40" width="22.60" height="22.60" fill="#FFC000"/>
<rect x="1586.60" y="972.40" width="22.60" height="22.60" fill="#BFBFBF"/>
<rect x="1613.30" y="972.40" width="22.60" height="22.60" fill="#FFC000"/>
<rect x="1640.00" y="972.40" width="22.60" height="22.60" fill="#FFC000"/>
<rect x="1683.20" y="972.40" width="22.60" height="22.60" fill="#C00000"/>
<rect x="1709.70" y="972.40" width="22.60" height="22.60" fill="#C00000"/>
<rect x="1736.40" y="972.40" width="22.60" height="22.60" fill="#C00000"/>
<rect x="1763.10" y="972.40" width="22.60" height="22.60" fill="#BFBFBF"/>
<rect x="1789.70" y="972.40" width="22.60" height="22.60" fill="#BFBFBF"/>
<rect x="1816.60" y="972.40" width="22.60" height="22.60" fill="#BFBFBF"/>
<rect x="1844.30" y="972.40" width="22.60" height="22.60" fill="#FFC000"/>
<rect x="1871.20" y="972.40" width="22.60" height="22.60" fill="#BFBFBF"/>
<rect x="1899.00" y="972.40" width="22.60" height="22.60" fill="#C00000"/>
<rect x="1926.00" y="972.40" width="22.60" height="22.60" fill="#BFBFBF"/>
<rect x="913.00" y="1014.40" width="22.60" height="22.60" fill="#C00000"/>
<rect x="939.60" y="1014.40" width="22.60" height="22.60" fill="#FFC000"/>
<rect x="966.20" y="1014.40" width="22.60" height="22.60" fill="#C00000"/>
<rect x="992.90" y="1014.40" width="22.60" height="22.60" fill="#FFC000"/>
<rect x="1019.30" y="1014.40" width="22.60" height="22.60" fill="#FFC000"/>
<rect x="1046.30" y="1014.40" width="22.60" height="22.60" fill="#FFC000"/>
<rect x="1088.70" y="1014.40" width="22.60" height="22.60" fill="#BFBFBF"/>
<rect x="1115.50" y="1014.40" width="22.60" height="22.60" fill="#C00000"/>
<rect x="1142.30" y="1014.40" width="22.60" height="22.60" fill="#BFBFBF"/>
<rect x="1168.70" y="1014.40" width="22.60" height="22.60" fill="#BFBFBF"/>
<rect x="1195.50" y="1014.40" width="22.60" height="22.60" fill="#FFC000"/>
<rect x="1222.20" y="1014.40" width="22.60" height="22.60" fill="#BFBFBF"/>
<rect x="1248.70" y="1014.40" width="22.60" height="22.60" fill="#BFBFBF"/>
<rect x="1275.40" y="1014.40" width="22.60" height="22.60" fill="#FFC000"/>
<rect x="1302.10" y="1014.40" width="22.60" height="22.60" fill="#FFC000"/>
<rect x="1328.80" y="1014.40" width="22.60" height="22.60" fill="#BFBFBF"/>
<rect x="1357.10" y="1014.40" width="22.60" height="22.60" fill="#BFBFBF"/>
<rect x="1400.30" y="1014.40" width="22.60" height="22.60" fill="#BFBFBF"/>
<rect x="1426.80" y="1014.40" width="22.60" height="22.60" fill="#FFC000"/>
<rect x="1453.40" y="1014.40" width="22.60" height="22.60" fill="#FFC000"/>
<rect x="1480.10" y="1014.40" width="22.60" height="22.60" fill="#FFC000"/>
<rect x="1506.60" y="1014.40" width="22.60" height="22.60" fill="#FFC000"/>
<rect x="1533.30" y="1014.40" width="22.60" height="22.60" fill="#FFC000"/>
<rect x="1559.90" y="1014.40" width="22.60" height="22.60" fill="#FFC000"/>
<rect x="1586.60" y="1014.40" width="22.60" height="22.60" fill="#BFBFBF"/>
<rect x="1613.30" y="1014.40" width="22.60" height="22.60" fill="#FFC000"/>
<rect x="1640.00" y="1014.40" width="22.60" height="22.60" fill="#FFC000"/>
<rect x="1683.20" y="1014.40" width="22.60" height="22.60" fill="#C00000"/>
<rect x="1709.70" y="1014.40" width="22.60" height="22.60" fill="#C00000"/>
<rect x="1736.40" y="1014.40" width="22.60" height="22.60" fill="#C00000"/>
<rect x="1763.10" y="1014.40" width="22.60" height="22.60" fill="#BFBFBF"/>
<rect x="1789.70" y="1014.40" width="22.60" height="22.60" fill="#BFBFBF"/>
<rect x="1816.60" y="1014.40" width="22.60" height="22.60" fill="#BFBFBF"/>
<rect x="1844.30" y="1014.40" width="22.60" height="22.60" fill="#FFFFFF"/>
<rect x="1871.20" y="1014.40" width="22.60" height="22.60" fill="#BFBFBF"/>
<rect x="1899.00" y="1014.40" width="22.60" height="22.60" fill="#C00000"/>
<rect x="1926.00" y="1014.40" width="22.60" height="22.60" fill="#BFBFBF"/>
<rect x="913.00" y="1056.20" width="22.60" height="22.60" fill="#C00000"/>
<rect x="939.60" y="1056.20" width="22.60" height="22.60" fill="#FFC000"/>
<rect x="966.20" y="1056.20" width="22.60" height="22.60" fill="#C00000"/>
<rect x="992.90" y="1056.20" width="22.60" height="22.60" fill="#FFC000"/>
<rect x="1019.30" y="1056.20" width="22.60" height="22.60" fill="#FFC000"/>
<rect x="1046.30" y="1056.20" width="22.60" height="22.60" fill="#FFC000"/>
<rect x="1088.70" y="1056.20" width="22.60" height="22.60" fill="#BFBFBF"/>
<rect x="1115.50" y="1056.20" width="22.60" height="22.60" fill="#C00000"/>
<rect x="1142.30" y="1056.20" width="22.60" height="22.60" fill="#BFBFBF"/>
<rect x="1168.70" y="1056.20" width="22.60" height="22.60" fill="#BFBFBF"/>
<rect x="1195.50" y="1056.20" width="22.60" height="22.60" fill="#FFC000"/>
<rect x="1222.20" y="1056.20" width="22.60" height="22.60" fill="#BFBFBF"/>
<rect x="1248.70" y="1056.20" width="22.60" height="22.60" fill="#BFBFBF"/>
<rect x="1275.40" y="1056.20" width="22.60" height="22.60" fill="#FFC000"/>
<rect x="1302.10" y="1056.20" width="22.60" height="22.60" fill="#FFC000"/>
<rect x="1328.80" y="1056.20" width="22.60" height="22.60" fill="#BFBFBF"/>
<rect x="1357.10" y="1056.20" width="22.60" height="22.60" fill="#BFBFBF"/>
<rect x="1400.30" y="1056.20" width="22.60" height="22.60" fill="#BFBFBF"/>
<rect x="1426.80" y="1056.20" width="22.60" height="22.60" fill="#FFC000"/>
<rect x="1453.40" y="1056.20" width="22.60" height="22.60" fill="#FFC000"/>
<rect x="1480.10" y="1056.20" width="22.60" height="22.60" fill="#FFC000"/>
<rect x="1506.60" y="1056.20" width="22.60" height="22.60" fill="#FFC000"/>
<rect x="1533.30" y="1056.20" width="22.60" height="22.60" fill="#FFC000"/>
<rect x="1559.90" y="1056.20" width="22.60" height="22.60" fill="#FFC000"/>
<rect x="1586.60" y="1056.20" width="22.60" height="22.60" fill="#BFBFBF"/>
<rect x="1613.30" y="1056.20" width="22.60" height="22.60" fill="#FFC000"/>
<rect x="1640.00" y="1056.20" width="22.60" height="22.60" fill="#FFC000"/>
<rect x="1683.20" y="1056.20" width="22.60" height="22.60" fill="#C00000"/>
<rect x="1709.70" y="1056.20" width="22.60" height="22.60" fill="#C00000"/>
<rect x="1736.40" y="1056.20" width="22.60" height="22.60" fill="#C00000"/>
<rect x="1763.10" y="1056.20" width="22.60" height="22.60" fill="#BFBFBF"/>
<rect x="1789.70" y="1056.20" width="22.60" height="22.60" fill="#BFBFBF"/>
<rect x="1816.60" y="1056.20" width="22.60" height="22.60" fill="#BFBFBF"/>
<rect x="1844.30" y="1056.20" width="22.60" height="22.60" fill="#BFBFBF"/>
<rect x="1871.20" y="1056.20" width="22.60" height="22.60" fill="#BFBFBF"/>
<rect x="1899.00" y="1056.20" width="22.60" height="22.60" fill="#C00000"/>
<rect x="1926.00" y="1056.20" width="22.60" height="22.60" fill="#BFBFBF"/>
</g>
<g>
<text x="930.70" y="262.00" font-size="21.55" textLength="97.03" lengthAdjust="spacingAndGlyphs" font-weight="bold" stroke="#000" stroke-width="0.60" transform="rotate(-77.00 930.70 262.00)">Glycolysis</text>
<text x="957.30" y="262.00" font-size="21.55" textLength="167.62" lengthAdjust="spacingAndGlyphs" font-weight="bold" stroke="#000" stroke-width="0.60" transform="rotate(-77.00 957.30 262.00)">Gluconeogenesis</text>
<text x="983.90" y="262.00" font-size="21.55" textLength="187.19" lengthAdjust="spacingAndGlyphs" font-weight="bold" stroke="#000" stroke-width="0.60" transform="rotate(-77.00 983.90 262.00)">Pyruvate oxidation</text>
<text x="1010.60" y="262.00" font-size="21.55" textLength="95.62" lengthAdjust="spacingAndGlyphs" font-weight="bold" stroke="#000" stroke-width="0.60" transform="rotate(-77.00 1010.60 262.00)">TCA Cycle</text>
<text x="1037.00" y="262.00" font-size="21.55" textLength="195.42" lengthAdjust="spacingAndGlyphs" font-weight="bold" stroke="#000" stroke-width="0.60" transform="rotate(-77.00 1037.00 262.00)">PPP (non-oxidative)</text>
<text x="1064.00" y="262.00" font-size="21.55" textLength="117.95" lengthAdjust="spacingAndGlyphs" font-weight="bold" stroke="#000" stroke-width="0.60" transform="rotate(-77.00 1064.00 262.00)">Nucleotides</text>
<text x="1107.90" y="262.00" font-size="21.55" textLength="83.63" lengthAdjust="spacingAndGlyphs" font-weight="bold" stroke="#000" stroke-width="0.60" transform="rotate(-77.00 1107.90 262.00)">Arginine</text>
<text x="1134.70" y="262.00" font-size="21.55" textLength="113.51" lengthAdjust="spacingAndGlyphs" font-weight="bold" stroke="#000" stroke-width="0.60" transform="rotate(-77.00 1134.70 262.00)">Chorismate</text>
<text x="1161.50" y="262.00" font-size="21.55" textLength="84.02" lengthAdjust="spacingAndGlyphs" font-weight="bold" stroke="#000" stroke-width="0.60" transform="rotate(-77.00 1161.50 262.00)">Cysteine</text>
<text x="1187.90" y="262.00" font-size="21.55" textLength="87.94" lengthAdjust="spacingAndGlyphs" font-weight="bold" stroke="#000" stroke-width="0.60" transform="rotate(-77.00 1187.90 262.00)">Histidine</text>
<text x="1214.70" y="262.00" font-size="21.55" textLength="172.05" lengthAdjust="spacingAndGlyphs" font-weight="bold" stroke="#000" stroke-width="0.60" transform="rotate(-77.00 1214.70 262.00)">Isoleucine/Valine</text>
<text x="1241.40" y="262.00" font-size="21.55" textLength="75.85" lengthAdjust="spacingAndGlyphs" font-weight="bold" stroke="#000" stroke-width="0.60" transform="rotate(-77.00 1241.40 262.00)">Leucine</text>
<text x="1267.90" y="262.00" font-size="21.55" textLength="60.70" lengthAdjust="spacingAndGlyphs" font-weight="bold" stroke="#000" stroke-width="0.60" transform="rotate(-77.00 1267.90 262.00)">Lysine</text>
<text x="1294.60" y="262.00" font-size="21.55" textLength="116.39" lengthAdjust="spacingAndGlyphs" font-weight="bold" stroke="#000" stroke-width="0.60" transform="rotate(-77.00 1294.60 262.00)">Methionine</text>
<text x="1321.30" y="262.00" font-size="21.55" textLength="140.48" lengthAdjust="spacingAndGlyphs" font-weight="bold" stroke="#000" stroke-width="0.60" transform="rotate(-77.00 1321.30 262.00)">Phenylalanine</text>
<text x="1348.00" y="262.00" font-size="21.55" textLength="101.53" lengthAdjust="spacingAndGlyphs" font-weight="bold" stroke="#000" stroke-width="0.60" transform="rotate(-77.00 1348.00 262.00)">Threonine</text>
<text x="1376.30" y="262.00" font-size="21.55" textLength="114.68" lengthAdjust="spacingAndGlyphs" font-weight="bold" stroke="#000" stroke-width="0.60" transform="rotate(-77.00 1376.30 262.00)">Tryptophan</text>
<text x="1418.80" y="262.00" font-size="21.55" textLength="59.06" lengthAdjust="spacingAndGlyphs" font-weight="bold" stroke="#000" stroke-width="0.60" transform="rotate(-77.00 1418.80 262.00)">Biotin</text>
<text x="1445.30" y="262.00" font-size="21.55" textLength="106.15" lengthAdjust="spacingAndGlyphs" font-weight="bold" stroke="#000" stroke-width="0.60" transform="rotate(-77.00 1445.30 262.00)">Cobalamin</text>
<text x="1471.90" y="262.00" font-size="21.55" textLength="61.13" lengthAdjust="spacingAndGlyphs" font-weight="bold" stroke="#000" stroke-width="0.60" transform="rotate(-77.00 1471.90 262.00)">Folate</text>
<text x="1498.60" y="262.00" font-size="21.55" textLength="58.71" lengthAdjust="spacingAndGlyphs" font-weight="bold" stroke="#000" stroke-width="0.60" transform="rotate(-77.00 1498.60 262.00)">Heme</text>
<text x="1525.10" y="262.00" font-size="21.55" textLength="58.13" lengthAdjust="spacingAndGlyphs" font-weight="bold" stroke="#000" stroke-width="0.60" transform="rotate(-77.00 1525.10 262.00)">NADP</text>
<text x="1551.80" y="262.00" font-size="21.55" textLength="163.96" lengthAdjust="spacingAndGlyphs" font-weight="bold" stroke="#000" stroke-width="0.60" transform="rotate(-77.00 1551.80 262.00)">PA/ Coenzyme A</text>
<text x="1578.40" y="262.00" font-size="21.55" textLength="129.88" lengthAdjust="spacingAndGlyphs" font-weight="bold" stroke="#000" stroke-width="0.60" transform="rotate(-77.00 1578.40 262.00)">Pyridoxal 5-P</text>
<text x="1605.10" y="262.00" font-size="21.55" textLength="99.92" lengthAdjust="spacingAndGlyphs" font-weight="bold" stroke="#000" stroke-width="0.60" transform="rotate(-77.00 1605.10 262.00)">Riboflavin</text>
<text x="1631.80" y="262.00" font-size="21.55" textLength="92.69" lengthAdjust="spacingAndGlyphs" font-weight="bold" stroke="#000" stroke-width="0.60" transform="rotate(-77.00 1631.80 262.00)">Thiamine</text>
<text x="1658.50" y="262.00" font-size="21.55" textLength="116.60" lengthAdjust="spacingAndGlyphs" font-weight="bold" stroke="#000" stroke-width="0.60" transform="rotate(-77.00 1658.50 262.00)">Ubiquinone</text>
<text x="1701.90" y="262.00" font-size="21.55" textLength="35.33" lengthAdjust="spacingAndGlyphs" font-weight="bold" stroke="#000" stroke-width="0.60" transform="rotate(-77.00 1701.90 262.00)">SEC</text>
<text x="1729.10" y="262.00" font-size="21.55" textLength="34.48" lengthAdjust="spacingAndGlyphs" font-weight="bold" stroke="#000" stroke-width="0.60" transform="rotate(-77.00 1729.10 262.00)">TAT</text>
<text x="1756.20" y="262.00" font-size="21.55" textLength="46.64" lengthAdjust="spacingAndGlyphs" font-weight="bold" stroke="#000" stroke-width="0.60" transform="rotate(-77.00 1756.20 262.00)">T1SS</text>
<text x="1781.90" y="262.00" font-size="21.55" textLength="46.64" lengthAdjust="spacingAndGlyphs" font-weight="bold" stroke="#000" stroke-width="0.60" transform="rotate(-77.00 1781.90 262.00)">T2SS</text>
<text x="1809.00" y="262.00" font-size="21.55" textLength="46.64" lengthAdjust="spacingAndGlyphs" font-weight="bold" stroke="#000" stroke-width="0.60" transform="rotate(-77.00 1809.00 262.00)">T3SS</text>
<text x="1835.40" y="262.00" font-size="21.55" textLength="34.72" lengthAdjust="spacingAndGlyphs" font-weight="bold" stroke="#000" stroke-width="0.60" transform="rotate(-77.00 1835.40 262.00)">Tad</text>
<text x="1862.60" y="262.00" font-size="21.55" textLength="46.64" lengthAdjust="spacingAndGlyphs" font-weight="bold" stroke="#000" stroke-width="0.60" transform="rotate(-77.00 1862.60 262.00)">T4SS</text>
<text x="1888.20" y="262.00" font-size="21.55" textLength="78.36" lengthAdjust="spacingAndGlyphs" font-weight="bold" stroke="#000" stroke-width="0.60" transform="rotate(-77.00 1888.20 262.00)">T4-pilus</text>
<text x="1916.20" y="262.00" font-size="21.55" textLength="46.64" lengthAdjust="spacingAndGlyphs" font-weight="bold" stroke="#000" stroke-width="0.60" transform="rotate(-77.00 1916.20 262.00)">T5SS</text>
<text x="1941.80" y="262.00" font-size="21.55" textLength="46.64" lengthAdjust="spacingAndGlyphs" font-weight="bold" stroke="#000" stroke-width="0.60" transform="rotate(-77.00 1941.80 262.00)">T6SS</text>
</g>
<text x="1140.50" y="72.90" font-size="21.51" textLength="210.65" lengthAdjust="spacingAndGlyphs" font-weight="bold" stroke="#000" stroke-width="0.50">Essential amino acids</text>
<text x="1450.30" y="72.90" font-size="21.51" textLength="187.56" lengthAdjust="spacingAndGlyphs" font-weight="bold" stroke="#000" stroke-width="0.50">Vitamins/cofactors</text>
<text x="1724.20" y="68.60" font-size="21.51" textLength="178.89" lengthAdjust="spacingAndGlyphs" font-weight="bold" stroke="#000" stroke-width="0.50">Secretion Systems</text>
<line x1="1099.10" y1="84.00" x2="1396.80" y2="84.00" stroke="#000" stroke-width="3.30"/>
<line x1="1412.10" y1="84.00" x2="1683.90" y2="84.00" stroke="#000" stroke-width="3.30"/>
<line x1="1692.00" y1="83.90" x2="1941.30" y2="83.90" stroke="#000" stroke-width="3.30"/>
<text x="645.35" y="176.50" font-size="21.51" textLength="126.31" lengthAdjust="spacingAndGlyphs" font-weight="bold" stroke="#000" stroke-width="0.50">Genome size</text>
<text x="678.08" y="205.10" font-size="21.51" textLength="61.43" lengthAdjust="spacingAndGlyphs" font-weight="bold" stroke="#000" stroke-width="0.50">(Mbp)</text>
<text x="823.76" y="176.50" font-size="21.51" textLength="45.48" lengthAdjust="spacingAndGlyphs" font-weight="bold" stroke="#000" stroke-width="0.50">Host</text>
<text x="621.36" y="242.80" font-size="23.22" textLength="13.08" lengthAdjust="spacingAndGlyphs" font-weight="bold" stroke="#000" stroke-width="0.30">0</text>
<text x="677.06" y="242.80" font-size="23.22" textLength="13.08" lengthAdjust="spacingAndGlyphs" font-weight="bold" stroke="#000" stroke-width="0.30">1</text>
<text x="730.06" y="242.80" font-size="23.22" textLength="13.08" lengthAdjust="spacingAndGlyphs" font-weight="bold" stroke="#000" stroke-width="0.30">2</text>
<text x="785.06" y="242.80" font-size="23.22" textLength="13.08" lengthAdjust="spacingAndGlyphs" font-weight="bold" stroke="#000" stroke-width="0.30">3</text>
<line x1="627.80" y1="256.20" x2="629.40" y2="1089.00" stroke="#000" stroke-width="3.30" stroke-dasharray="10.4 3.6"/>
<line x1="683.30" y1="256.20" x2="685.70" y2="1089.00" stroke="#000" stroke-width="3.30" stroke-dasharray="10.4 3.6"/>
<line x1="736.80" y1="256.20" x2="739.60" y2="1089.00" stroke="#000" stroke-width="3.30" stroke-dasharray="10.4 3.6"/>
<line x1="790.90" y1="256.20" x2="793.50" y2="1089.00" stroke="#000" stroke-width="3.30" stroke-dasharray="10.4 3.6"/>
<g fill="#4472C4" stroke="#2F528F" stroke-width="1">
<rect x="626.90" y="273.00" width="73.00" height="23.10"/>
<rect x="626.90" y="314.80" width="80.20" height="23.30"/>
<rect x="626.90" y="356.60" width="76.40" height="23.10"/>
<rect x="626.90" y="398.80" width="98.50" height="22.90"/>
<rect x="626.90" y="443.40" width="47.90" height="23.50"/>
<rect x="626.90" y="512.60" width="36.00" height="23.10"/>
<rect x="626.90" y="554.40" width="36.40" height="23.10"/>
<rect x="626.90" y="596.40" width="36.00" height="23.10"/>
<rect x="626.90" y="638.40" width="34.40" height="22.90"/>
<rect x="626.90" y="680.40" width="96.50" height="23.10"/>
<rect x="626.90" y="719.10" width="124.50" height="23.20"/>
<rect x="626.90" y="761.40" width="104.80" height="23.10"/>
<rect x="626.90" y="803.40" width="162.40" height="23.10"/>
<rect x="626.90" y="848.20" width="149.40" height="23.10"/>
<rect x="626.90" y="890.20" width="102.30" height="23.20"/>
<rect x="626.90" y="932.40" width="79.40" height="23.10"/>
<rect x="626.90" y="972.60" width="76.60" height="22.70"/>
<rect x="626.90" y="1014.60" width="70.20" height="22.70"/>
<rect x="626.90" y="1056.40" width="73.40" height="23.10"/>
</g>
<g stroke="#000" stroke-width="3.00" fill="none">
<path d="M197.00 284.10V332.10M159.50 308.60H198.50M161.00 307.10V373.00M159.50 371.50H206.60M125.40 344.60H162.50M126.90 343.10V414.10M125.40 412.60H206.40M91.90 382.70H128.40M93.40 381.20V453.20M91.90 451.70H205.80M69.20 421.00H94.90M70.70 419.50V619.10M69.20 617.60H107.20M105.70 579.20V651.20M104.20 649.70H200.90M104.20 580.70H142.20M140.70 544.60V610.60M139.20 609.10H203.00M139.20 546.10H182.50M181.00 520.50V570.40M179.50 522.00H203.80M179.50 568.90H203.80M35.10 517.00H72.20M36.60 515.50V878.20M-0.15 710.30H38.10M1.35 708.80V1043.10M35.10 876.70H72.20M70.70 808.60V943.00M69.20 941.50H207.70M69.20 810.10H107.20M105.70 745.80V873.30M104.20 747.30H142.20M140.70 713.40V779.00M139.20 777.50H203.50M139.20 714.90H182.50M181.00 689.20V738.50M179.50 690.70H203.80M179.50 737.00H203.80M104.20 871.80H142.20M140.70 839.00V904.60M139.20 903.10H203.00M139.20 840.50H182.50M181.00 814.90V863.90M179.50 816.40H203.80M179.50 862.40H203.80M-0.15 1041.60H142.20M140.70 1006.90V1072.50M139.20 1071.00H203.50M139.20 1008.40H182.50M181.00 982.90V1031.60M179.50 984.40H203.80M179.50 1030.10H203.80"/>
</g>
<g>
<text x="213.60" y="294.00" font-size="23.27" textLength="211.78" lengthAdjust="spacingAndGlyphs" font-weight="bold" font-style="italic" stroke="#000" stroke-width="0.30">Holospora elegans*</text>
<text x="213.60" y="335.90" font-size="23.27" textLength="225.76" lengthAdjust="spacingAndGlyphs" font-weight="bold" font-style="italic" stroke="#000" stroke-width="0.30">Holospora undulata*</text>
<text x="213.60" y="377.70" font-size="23.27" textLength="202.52" lengthAdjust="spacingAndGlyphs" font-weight="bold" font-style="italic" stroke="#000" stroke-width="0.30">Holospora obtusa*</text>
<text x="213.60" y="419.60" font-size="23.27" textLength="249.11" lengthAdjust="spacingAndGlyphs" font-weight="bold" font-style="italic" stroke="#000" stroke-width="0.30">Holospora curviuscula*</text>
<text x="213.60" y="460.60" font-size="23.27" textLength="33.97" lengthAdjust="spacingAndGlyphs" font-weight="bold" font-style="italic" stroke="#000" stroke-width="0.30">Ca.</text>
<text x="253.41" y="460.60" font-size="23.27" textLength="245.20" lengthAdjust="spacingAndGlyphs" font-weight="bold" stroke="#000" stroke-width="0.30">Hydrogenosomobacter</text>
<text x="213.60" y="491.60" font-size="23.27" textLength="182.17" lengthAdjust="spacingAndGlyphs" font-weight="bold" stroke="#000" stroke-width="0.30">endosymbioticus</text>
<text x="213.60" y="531.00" font-size="23.27" textLength="33.97" lengthAdjust="spacingAndGlyphs" font-weight="bold" font-style="italic" stroke="#000" stroke-width="0.30">Ca.</text>
<text x="253.41" y="531.00" font-size="23.27" textLength="247.51" lengthAdjust="spacingAndGlyphs" font-weight="bold" stroke="#000" stroke-width="0.30">Cytomitobacter primus</text>
<text x="213.60" y="572.70" font-size="23.27" textLength="33.97" lengthAdjust="spacingAndGlyphs" font-weight="bold" font-style="italic" stroke="#000" stroke-width="0.30">Ca.</text>
<text x="253.41" y="572.70" font-size="23.27" textLength="287.14" lengthAdjust="spacingAndGlyphs" font-weight="bold" stroke="#000" stroke-width="0.30">Cytomitobacter indipagum</text>
<text x="213.60" y="614.60" font-size="23.27" textLength="33.97" lengthAdjust="spacingAndGlyphs" font-weight="bold" font-style="italic" stroke="#000" stroke-width="0.30">Ca.</text>
<text x="253.41" y="614.60" font-size="23.27" textLength="250.85" lengthAdjust="spacingAndGlyphs" font-weight="bold" stroke="#000" stroke-width="0.30">Nesciobacter abundans</text>
<text x="213.60" y="656.40" font-size="23.27" textLength="33.97" lengthAdjust="spacingAndGlyphs" font-weight="bold" font-style="italic" stroke="#000" stroke-width="0.30">Ca.</text>
<text x="253.41" y="656.40" font-size="23.27" textLength="274.44" lengthAdjust="spacingAndGlyphs" font-weight="bold" stroke="#000" stroke-width="0.30">Gromoviella agglomerans</text>
<text x="213.60" y="699.80" font-size="23.27" textLength="278.61" lengthAdjust="spacingAndGlyphs" font-weight="bold" font-style="italic" stroke="#000" stroke-width="0.30">Caedimonas varicaedens*</text>
<text x="213.60" y="741.50" font-size="23.27" textLength="33.97" lengthAdjust="spacingAndGlyphs" font-weight="bold" font-style="italic" stroke="#000" stroke-width="0.30">Ca.</text>
<text x="253.41" y="741.50" font-size="23.27" textLength="354.92" lengthAdjust="spacingAndGlyphs" font-weight="bold" stroke="#000" stroke-width="0.30">Paracaedimonas acanthamoebae</text>
<text x="213.60" y="783.10" font-size="23.27" textLength="33.97" lengthAdjust="spacingAndGlyphs" font-weight="bold" font-style="italic" stroke="#000" stroke-width="0.30">Ca.</text>
<text x="253.41" y="783.10" font-size="23.27" textLength="274.92" lengthAdjust="spacingAndGlyphs" font-weight="bold" stroke="#000" stroke-width="0.30">Nucleicultrix amoebiphila</text>
<text x="213.60" y="824.70" font-size="23.27" textLength="33.97" lengthAdjust="spacingAndGlyphs" font-weight="bold" font-style="italic" stroke="#000" stroke-width="0.30">Ca.</text>
<text x="253.41" y="824.70" font-size="23.27" textLength="295.74" lengthAdjust="spacingAndGlyphs" font-weight="bold" stroke="#000" stroke-width="0.30">Odyssella thessalonicensis*</text>
<text x="213.60" y="866.50" font-size="23.27" textLength="33.97" lengthAdjust="spacingAndGlyphs" font-weight="bold" font-style="italic" stroke="#000" stroke-width="0.30">Ca.</text>
<text x="253.41" y="866.50" font-size="23.27" textLength="351.34" lengthAdjust="spacingAndGlyphs" font-weight="bold" stroke="#000" stroke-width="0.30">Paracaedibacter acanthamoebae</text>
<text x="213.60" y="908.30" font-size="23.27" textLength="33.97" lengthAdjust="spacingAndGlyphs" font-weight="bold" font-style="italic" stroke="#000" stroke-width="0.30">Ca.</text>
<text x="253.41" y="908.30" font-size="23.27" textLength="211.79" lengthAdjust="spacingAndGlyphs" font-weight="bold" stroke="#000" stroke-width="0.30">Finniella inopinata*</text>
<text x="213.60" y="948.70" font-size="23.27" textLength="33.97" lengthAdjust="spacingAndGlyphs" font-weight="bold" font-style="italic" stroke="#000" stroke-width="0.30">Ca.</text>
<text x="253.41" y="948.70" font-size="23.27" textLength="310.74" lengthAdjust="spacingAndGlyphs" font-weight="bold" stroke="#000" stroke-width="0.30">Bodocaedibacter vickermanii</text>
<text x="213.60" y="992.10" font-size="23.27" textLength="33.97" lengthAdjust="spacingAndGlyphs" font-weight="bold" font-style="italic" fill="#C00000" stroke="#C00000" stroke-width="0.30">Ca.</text>
<text x="253.41" y="992.10" font-size="23.27" textLength="309.63" lengthAdjust="spacingAndGlyphs" font-weight="bold" fill="#C00000" stroke="#C00000" stroke-width="0.30">Hepatincola porcellionum Av</text>
<text x="213.60" y="1033.90" font-size="23.27" textLength="33.97" lengthAdjust="spacingAndGlyphs" font-weight="bold" font-style="italic" fill="#C00000" stroke="#C00000" stroke-width="0.30">Ca.</text>
<text x="253.41" y="1033.90" font-size="23.27" textLength="323.56" lengthAdjust="spacingAndGlyphs" font-weight="bold" fill="#C00000" stroke="#C00000" stroke-width="0.30">Hepatincola porcellionum Pdp</text>
<text x="576.98" y="1033.90" font-size="23.27" textLength="12.88" lengthAdjust="spacingAndGlyphs" font-weight="bold" stroke="#000" stroke-width="0.30">*</text>
<text x="213.60" y="1075.70" font-size="23.27" textLength="33.97" lengthAdjust="spacingAndGlyphs" font-weight="bold" font-style="italic" fill="#C00000" stroke="#C00000" stroke-width="0.30">Ca.</text>
<text x="253.41" y="1075.70" font-size="23.27" textLength="310.00" lengthAdjust="spacingAndGlyphs" font-weight="bold" fill="#C00000" stroke="#C00000" stroke-width="0.30">Hepatincola porcellionum Pp</text>
</g>
<text x="12.00" y="41.80" font-size="18.54" textLength="53.10" lengthAdjust="spacingAndGlyphs" font-weight="bold" stroke="#000" stroke-width="0.40">Hosts:</text>
<text x="84.11" y="55.50" font-size="18.54" textLength="70.18" lengthAdjust="spacingAndGlyphs" stroke="#000" stroke-width="0.30">Amoeba</text>
<text x="172.28" y="55.50" font-size="18.54" textLength="59.83" lengthAdjust="spacingAndGlyphs" stroke="#000" stroke-width="0.30">Ciliates</text>
<text x="256.36" y="55.50" font-size="18.54" textLength="77.48" lengthAdjust="spacingAndGlyphs" stroke="#000" stroke-width="0.30">Amoebo-</text>
<text x="252.57" y="80.50" font-size="18.54" textLength="84.67" lengthAdjust="spacingAndGlyphs" stroke="#000" stroke-width="0.30">flagellates</text>
<text x="363.51" y="55.50" font-size="18.54" textLength="95.39" lengthAdjust="spacingAndGlyphs" stroke="#000" stroke-width="0.30">Euglenozoa</text>
<text x="489.30" y="56.80" font-size="18.54" textLength="86.00" lengthAdjust="spacingAndGlyphs" stroke="#000" stroke-width="0.30">Terrestrial</text>
<text x="500.29" y="81.20" font-size="18.54" textLength="64.21" lengthAdjust="spacingAndGlyphs" stroke="#000" stroke-width="0.30">isopods</text>
<text x="11.94" y="157.70" font-size="18.54" textLength="80.92" lengthAdjust="spacingAndGlyphs" stroke="#000" stroke-width="0.30">Complete</text>
<text x="111.44" y="157.70" font-size="18.54" textLength="53.32" lengthAdjust="spacingAndGlyphs" stroke="#000" stroke-width="0.30">Partial</text>
<text x="188.36" y="157.70" font-size="18.54" textLength="58.48" lengthAdjust="spacingAndGlyphs" stroke="#000" stroke-width="0.30">Absent</text>
<text x="264.02" y="157.70" font-size="18.54" textLength="80.56" lengthAdjust="spacingAndGlyphs" stroke="#000" stroke-width="0.30">Unknown</text>
<g stroke="#000" stroke-width="2.80">
<rect x="40.70" y="108.90" width="23.00" height="22.90" fill="#C00000"/>
<rect x="126.50" y="108.90" width="23.00" height="22.90" fill="#FFC000"/>
<rect x="206.20" y="108.90" width="23.00" height="22.90" fill="#BFBFBF"/>
<rect x="292.60" y="108.90" width="23.00" height="22.90" fill="#FFFFFF"/>
</g>
<defs><linearGradient id="ig" x1="0" y1="0" x2="0" y2="1"><stop offset="0" stop-color="#8c8c8c"/><stop offset="0.5" stop-color="#b2b2b2"/><stop offset="1" stop-color="#858585"/></linearGradient></defs>
<g transform="translate(844.10 285.60)"><g stroke="#595959" fill="none"><ellipse cx="0" cy="0" rx="16.9" ry="8.0" stroke-width="3.6" fill="#fff"/><path d="M-15.67 -3.00L-18.67 -12.22M-15.67 3.00L-18.67 12.22M-13.50 -4.81L-14.82 -14.22M-13.50 4.81L-14.82 14.22M-10.64 -6.22L-9.02 -15.38M-10.64 6.22L-9.02 15.38M-7.93 -7.06L-3.95 -16.02M-7.93 7.06L-3.95 16.02M-3.22 -7.85L0.98 -16.48M-3.22 7.85L0.98 16.48M2.06 -7.94L6.12 -16.64M2.06 7.94L6.12 16.64M7.14 -7.25L11.35 -15.88M7.14 7.25L11.35 15.88M11.74 -5.75L15.95 -14.38M11.74 5.75L15.95 14.38M15.32 -3.38L20.12 -11.69M15.32 3.38L20.12 11.69M16.64 -1.39L22.67 -8.08M16.64 1.39L22.67 8.08M16.90 0L26.20 0" stroke-width="2.9"/><path d="M-18.67 -12.22L-14.40 -11.25L-9.89 -10.45L-10.64 -6.22L-10.64 6.22L-9.89 10.45L-14.40 11.25L-18.67 12.22L-17.30 0.00Z" fill="#595959" stroke-width="1.0" stroke-linejoin="round"/><ellipse cx="0" cy="0" rx="15.1" ry="6.2" stroke="none" fill="#fff"/></g></g>
<g transform="translate(844.10 327.70)"><g stroke="#595959" fill="none"><ellipse cx="0" cy="0" rx="16.9" ry="8.0" stroke-width="3.6" fill="#fff"/><path d="M-15.67 -3.00L-18.67 -12.22M-15.67 3.00L-18.67 12.22M-13.50 -4.81L-14.82 -14.22M-13.50 4.81L-14.82 14.22M-10.64 -6.22L-9.02 -15.38M-10.64 6.22L-9.02 15.38M-7.93 -7.06L-3.95 -16.02M-7.93 7.06L-3.95 16.02M-3.22 -7.85L0.98 -16.48M-3.22 7.85L0.98 16.48M2.06 -7.94L6.12 -16.64M2.06 7.94L6.12 16.64M7.14 -7.25L11.35 -15.88M7.14 7.25L11.35 15.88M11.74 -5.75L15.95 -14.38M11.74 5.75L15.95 14.38M15.32 -3.38L20.12 -11.69M15.32 3.38L20.12 11.69M16.64 -1.39L22.67 -8.08M16.64 1.39L22.67 8.08M16.90 0L26.20 0" stroke-width="2.9"/><path d="M-18.67 -12.22L-14.40 -11.25L-9.89 -10.45L-10.64 -6.22L-10.64 6.22L-9.89 10.45L-14.40 11.25L-18.67 12.22L-17.30 0.00Z" fill="#595959" stroke-width="1.0" stroke-linejoin="round"/><ellipse cx="0" cy="0" rx="15.1" ry="6.2" stroke="none" fill="#fff"/></g></g>
<g transform="translate(844.10 370.30)"><g stroke="#595959" fill="none"><ellipse cx="0" cy="0" rx="16.9" ry="8.0" stroke-width="3.6" fill="#fff"/><path d="M-15.67 -3.00L-18.67 -12.22M-15.67 3.00L-18.67 12.22M-13.50 -4.81L-14.82 -14.22M-13.50 4.81L-14.82 14.22M-10.64 -6.22L-9.02 -15.38M-10.64 6.22L-9.02 15.38M-7.93 -7.06L-3.95 -16.02M-7.93 7.06L-3.95 16.02M-3.22 -7.85L0.98 -16.48M-3.22 7.85L0.98 16.48M2.06 -7.94L6.12 -16.64M2.06 7.94L6.12 16.64M7.14 -7.25L11.35 -15.88M7.14 7.25L11.35 15.88M11.74 -5.75L15.95 -14.38M11.74 5.75L15.95 14.38M15.32 -3.38L20.12 -11.69M15.32 3.38L20.12 11.69M16.64 -1.39L22.67 -8.08M16.64 1.39L22.67 8.08M16.90 0L26.20 0" stroke-width="2.9"/><path d="M-18.67 -12.22L-14.40 -11.25L-9.89 -10.45L-10.64 -6.22L-10.64 6.22L-9.89 10.45L-14.40 11.25L-18.67 12.22L-17.30 0.00Z" fill="#595959" stroke-width="1.0" stroke-linejoin="round"/><ellipse cx="0" cy="0" rx="15.1" ry="6.2" stroke="none" fill="#fff"/></g></g>
<g transform="translate(844.10 412.40)"><g stroke="#595959" fill="none"><ellipse cx="0" cy="0" rx="16.9" ry="8.0" stroke-width="3.6" fill="#fff"/><path d="M-15.67 -3.00L-18.67 -12.22M-15.67 3.00L-18.67 12.22M-13.50 -4.81L-14.82 -14.22M-13.50 4.81L-14.82 14.22M-10.64 -6.22L-9.02 -15.38M-10.64 6.22L-9.02 15.38M-7.93 -7.06L-3.95 -16.02M-7.93 7.06L-3.95 16.02M-3.22 -7.85L0.98 -16.48M-3.22 7.85L0.98 16.48M2.06 -7.94L6.12 -16.64M2.06 7.94L6.12 16.64M7.14 -7.25L11.35 -15.88M7.14 7.25L11.35 15.88M11.74 -5.75L15.95 -14.38M11.74 5.75L15.95 14.38M15.32 -3.38L20.12 -11.69M15.32 3.38L20.12 11.69M16.64 -1.39L22.67 -8.08M16.64 1.39L22.67 8.08M16.90 0L26.20 0" stroke-width="2.9"/><path d="M-18.67 -12.22L-14.40 -11.25L-9.89 -10.45L-10.64 -6.22L-10.64 6.22L-9.89 10.45L-14.40 11.25L-18.67 12.22L-17.30 0.00Z" fill="#595959" stroke-width="1.0" stroke-linejoin="round"/><ellipse cx="0" cy="0" rx="15.1" ry="6.2" stroke="none" fill="#fff"/></g></g>
<g transform="translate(844.10 454.70)"><g stroke="#595959" fill="none"><ellipse cx="0" cy="0" rx="16.9" ry="8.0" stroke-width="3.6" fill="#fff"/><path d="M-15.67 -3.00L-18.67 -12.22M-15.67 3.00L-18.67 12.22M-13.50 -4.81L-14.82 -14.22M-13.50 4.81L-14.82 14.22M-10.64 -6.22L-9.02 -15.38M-10.64 6.22L-9.02 15.38M-7.93 -7.06L-3.95 -16.02M-7.93 7.06L-3.95 16.02M-3.22 -7.85L0.98 -16.48M-3.22 7.85L0.98 16.48M2.06 -7.94L6.12 -16.64M2.06 7.94L6.12 16.64M7.14 -7.25L11.35 -15.88M7.14 7.25L11.35 15.88M11.74 -5.75L15.95 -14.38M11.74 5.75L15.95 14.38M15.32 -3.38L20.12 -11.69M15.32 3.38L20.12 11.69M16.64 -1.39L22.67 -8.08M16.64 1.39L22.67 8.08M16.90 0L26.20 0" stroke-width="2.9"/><path d="M-18.67 -12.22L-14.40 -11.25L-9.89 -10.45L-10.64 -6.22L-10.64 6.22L-9.89 10.45L-14.40 11.25L-18.67 12.22L-17.30 0.00Z" fill="#595959" stroke-width="1.0" stroke-linejoin="round"/><ellipse cx="0" cy="0" rx="15.1" ry="6.2" stroke="none" fill="#fff"/></g></g>
<g transform="translate(867.90 524.70)"><g stroke="#595959" fill="none" stroke-width="2.9" stroke-linecap="round"><ellipse cx="0" cy="0" rx="16.35" ry="8.10"/><path d="M-56.60 -10.00C-55.00 -9.83 -49.88 -9.60 -47.00 -9.00C-44.12 -8.40 -41.10 -7.40 -39.30 -6.40C-37.50 -5.40 -38.00 -3.97 -36.20 -3.00C-34.40 -2.03 -31.73 -1.27 -28.50 -0.60C-25.27 0.07 -18.75 0.73 -16.80 1.00"/><path d="M-31.50 -17.20C-30.75 -16.88 -28.13 -16.25 -27.00 -15.30C-25.87 -14.35 -25.23 -12.87 -24.70 -11.50C-24.17 -10.13 -24.42 -8.25 -23.80 -7.10C-23.18 -5.95 -22.20 -5.23 -21.00 -4.60C-19.80 -3.97 -17.33 -3.52 -16.60 -3.30"/></g></g>
<g transform="translate(867.90 567.10)"><g stroke="#595959" fill="none" stroke-width="2.9" stroke-linecap="round"><ellipse cx="0" cy="0" rx="16.35" ry="8.10"/><path d="M-56.60 -10.00C-55.00 -9.83 -49.88 -9.60 -47.00 -9.00C-44.12 -8.40 -41.10 -7.40 -39.30 -6.40C-37.50 -5.40 -38.00 -3.97 -36.20 -3.00C-34.40 -2.03 -31.73 -1.27 -28.50 -0.60C-25.27 0.07 -18.75 0.73 -16.80 1.00"/><path d="M-31.50 -17.20C-30.75 -16.88 -28.13 -16.25 -27.00 -15.30C-25.87 -14.35 -25.23 -12.87 -24.70 -11.50C-24.17 -10.13 -24.42 -8.25 -23.80 -7.10C-23.18 -5.95 -22.20 -5.23 -21.00 -4.60C-19.80 -3.97 -17.33 -3.52 -16.60 -3.30"/></g></g>
<g transform="translate(867.90 608.30)"><g stroke="#595959" fill="none" stroke-width="2.9" stroke-linecap="round"><ellipse cx="0" cy="0" rx="16.35" ry="8.10"/><path d="M-56.60 -10.00C-55.00 -9.83 -49.88 -9.60 -47.00 -9.00C-44.12 -8.40 -41.10 -7.40 -39.30 -6.40C-37.50 -5.40 -38.00 -3.97 -36.20 -3.00C-34.40 -2.03 -31.73 -1.27 -28.50 -0.60C-25.27 0.07 -18.75 0.73 -16.80 1.00"/><path d="M-31.50 -17.20C-30.75 -16.88 -28.13 -16.25 -27.00 -15.30C-25.87 -14.35 -25.23 -12.87 -24.70 -11.50C-24.17 -10.13 -24.42 -8.25 -23.80 -7.10C-23.18 -5.95 -22.20 -5.23 -21.00 -4.60C-19.80 -3.97 -17.33 -3.52 -16.60 -3.30"/></g></g>
<g transform="translate(844.10 650.90)"><g stroke="#595959" fill="none"><ellipse cx="0" cy="0" rx="16.9" ry="8.0" stroke-width="3.6" fill="#fff"/><path d="M-15.67 -3.00L-18.67 -12.22M-15.67 3.00L-18.67 12.22M-13.50 -4.81L-14.82 -14.22M-13.50 4.81L-14.82 14.22M-10.64 -6.22L-9.02 -15.38M-10.64 6.22L-9.02 15.38M-7.93 -7.06L-3.95 -16.02M-7.93 7.06L-3.95 16.02M-3.22 -7.85L0.98 -16.48M-3.22 7.85L0.98 16.48M2.06 -7.94L6.12 -16.64M2.06 7.94L6.12 16.64M7.14 -7.25L11.35 -15.88M7.14 7.25L11.35 15.88M11.74 -5.75L15.95 -14.38M11.74 5.75L15.95 14.38M15.32 -3.38L20.12 -11.69M15.32 3.38L20.12 11.69M16.64 -1.39L22.67 -8.08M16.64 1.39L22.67 8.08M16.90 0L26.20 0" stroke-width="2.9"/><path d="M-18.67 -12.22L-14.40 -11.25L-9.89 -10.45L-10.64 -6.22L-10.64 6.22L-9.89 10.45L-14.40 11.25L-18.67 12.22L-17.30 0.00Z" fill="#595959" stroke-width="1.0" stroke-linejoin="round"/><ellipse cx="0" cy="0" rx="15.1" ry="6.2" stroke="none" fill="#fff"/></g></g>
<g transform="translate(844.10 693.10)"><g stroke="#595959" fill="none"><ellipse cx="0" cy="0" rx="16.9" ry="8.0" stroke-width="3.6" fill="#fff"/><path d="M-15.67 -3.00L-18.67 -12.22M-15.67 3.00L-18.67 12.22M-13.50 -4.81L-14.82 -14.22M-13.50 4.81L-14.82 14.22M-10.64 -6.22L-9.02 -15.38M-10.64 6.22L-9.02 15.38M-7.93 -7.06L-3.95 -16.02M-7.93 7.06L-3.95 16.02M-3.22 -7.85L0.98 -16.48M-3.22 7.85L0.98 16.48M2.06 -7.94L6.12 -16.64M2.06 7.94L6.12 16.64M7.14 -7.25L11.35 -15.88M7.14 7.25L11.35 15.88M11.74 -5.75L15.95 -14.38M11.74 5.75L15.95 14.38M15.32 -3.38L20.12 -11.69M15.32 3.38L20.12 11.69M16.64 -1.39L22.67 -8.08M16.64 1.39L22.67 8.08M16.90 0L26.20 0" stroke-width="2.9"/><path d="M-18.67 -12.22L-14.40 -11.25L-9.89 -10.45L-10.64 -6.22L-10.64 6.22L-9.89 10.45L-14.40 11.25L-18.67 12.22L-17.30 0.00Z" fill="#595959" stroke-width="1.0" stroke-linejoin="round"/><ellipse cx="0" cy="0" rx="15.1" ry="6.2" stroke="none" fill="#fff"/></g></g>
<g transform="translate(829.50 716.40)"><path d="M7.31 3.93C7.86 3.27 8.58 2.80 9.39 2.72C10.20 2.63 11.24 2.92 12.17 3.41C13.09 3.90 14.02 5.22 14.94 5.67C15.87 6.12 16.88 6.12 17.72 6.09C18.56 6.06 19.17 5.96 19.98 5.50C20.79 5.03 21.60 3.99 22.58 3.31C23.57 2.63 24.93 1.87 25.88 1.43C26.84 1.00 27.47 0.75 28.31 0.70C29.15 0.66 30.14 0.79 30.92 1.16C31.70 1.52 32.45 2.14 33.00 2.89C33.55 3.64 33.87 4.69 34.22 5.67C34.56 6.65 34.90 7.75 35.08 8.79C35.26 9.84 35.35 10.91 35.29 11.92C35.23 12.93 35.12 14.12 34.74 14.87C34.35 15.62 33.75 16.02 33.00 16.43C32.25 16.85 31.10 17.07 30.22 17.37C29.34 17.67 28.21 17.82 27.72 18.24C27.23 18.66 27.23 19.22 27.27 19.91C27.31 20.59 27.88 21.47 27.97 22.34C28.05 23.20 28.04 24.14 27.79 25.11C27.54 26.09 27.11 27.36 26.47 28.17C25.84 28.98 24.97 29.64 23.97 29.98C22.98 30.31 21.43 30.36 20.50 30.18C19.57 30.01 18.88 29.54 18.42 28.93C17.95 28.33 18.13 27.21 17.72 26.57C17.32 25.94 16.91 25.55 15.99 25.11C15.06 24.68 13.38 24.25 12.17 23.97C10.95 23.69 10.03 23.49 8.69 23.45C7.36 23.41 5.36 23.79 4.18 23.73C3.01 23.66 2.20 23.67 1.65 23.03C1.10 22.39 0.95 20.77 0.88 19.91C0.81 19.04 0.91 18.40 1.23 17.82C1.55 17.24 2.18 16.90 2.79 16.43C3.40 15.97 4.30 15.74 4.88 15.04C5.45 14.35 6.00 13.19 6.26 12.27C6.53 11.34 6.50 10.41 6.47 9.49C6.44 8.56 5.95 7.64 6.09 6.71C6.23 5.79 6.76 4.60 7.31 3.93Z" fill="none" stroke="#595959" stroke-width="2.9" stroke-linejoin="round"/></g>
<g transform="translate(829.50 756.40)"><path d="M7.31 3.93C7.86 3.27 8.58 2.80 9.39 2.72C10.20 2.63 11.24 2.92 12.17 3.41C13.09 3.90 14.02 5.22 14.94 5.67C15.87 6.12 16.88 6.12 17.72 6.09C18.56 6.06 19.17 5.96 19.98 5.50C20.79 5.03 21.60 3.99 22.58 3.31C23.57 2.63 24.93 1.87 25.88 1.43C26.84 1.00 27.47 0.75 28.31 0.70C29.15 0.66 30.14 0.79 30.92 1.16C31.70 1.52 32.45 2.14 33.00 2.89C33.55 3.64 33.87 4.69 34.22 5.67C34.56 6.65 34.90 7.75 35.08 8.79C35.26 9.84 35.35 10.91 35.29 11.92C35.23 12.93 35.12 14.12 34.74 14.87C34.35 15.62 33.75 16.02 33.00 16.43C32.25 16.85 31.10 17.07 30.22 17.37C29.34 17.67 28.21 17.82 27.72 18.24C27.23 18.66 27.23 19.22 27.27 19.91C27.31 20.59 27.88 21.47 27.97 22.34C28.05 23.20 28.04 24.14 27.79 25.11C27.54 26.09 27.11 27.36 26.47 28.17C25.84 28.98 24.97 29.64 23.97 29.98C22.98 30.31 21.43 30.36 20.50 30.18C19.57 30.01 18.88 29.54 18.42 28.93C17.95 28.33 18.13 27.21 17.72 26.57C17.32 25.94 16.91 25.55 15.99 25.11C15.06 24.68 13.38 24.25 12.17 23.97C10.95 23.69 10.03 23.49 8.69 23.45C7.36 23.41 5.36 23.79 4.18 23.73C3.01 23.66 2.20 23.67 1.65 23.03C1.10 22.39 0.95 20.77 0.88 19.91C0.81 19.04 0.91 18.40 1.23 17.82C1.55 17.24 2.18 16.90 2.79 16.43C3.40 15.97 4.30 15.74 4.88 15.04C5.45 14.35 6.00 13.19 6.26 12.27C6.53 11.34 6.50 10.41 6.47 9.49C6.44 8.56 5.95 7.64 6.09 6.71C6.23 5.79 6.76 4.60 7.31 3.93Z" fill="none" stroke="#595959" stroke-width="2.9" stroke-linejoin="round"/></g>
<g transform="translate(829.50 803.10)"><path d="M7.31 3.93C7.86 3.27 8.58 2.80 9.39 2.72C10.20 2.63 11.24 2.92 12.17 3.41C13.09 3.90 14.02 5.22 14.94 5.67C15.87 6.12 16.88 6.12 17.72 6.09C18.56 6.06 19.17 5.96 19.98 5.50C20.79 5.03 21.60 3.99 22.58 3.31C23.57 2.63 24.93 1.87 25.88 1.43C26.84 1.00 27.47 0.75 28.31 0.70C29.15 0.66 30.14 0.79 30.92 1.16C31.70 1.52 32.45 2.14 33.00 2.89C33.55 3.64 33.87 4.69 34.22 5.67C34.56 6.65 34.90 7.75 35.08 8.79C35.26 9.84 35.35 10.91 35.29 11.92C35.23 12.93 35.12 14.12 34.74 14.87C34.35 15.62 33.75 16.02 33.00 16.43C32.25 16.85 31.10 17.07 30.22 17.37C29.34 17.67 28.21 17.82 27.72 18.24C27.23 18.66 27.23 19.22 27.27 19.91C27.31 20.59 27.88 21.47 27.97 22.34C28.05 23.20 28.04 24.14 27.79 25.11C27.54 26.09 27.11 27.36 26.47 28.17C25.84 28.98 24.97 29.64 23.97 29.98C22.98 30.31 21.43 30.36 20.50 30.18C19.57 30.01 18.88 29.54 18.42 28.93C17.95 28.33 18.13 27.21 17.72 26.57C17.32 25.94 16.91 25.55 15.99 25.11C15.06 24.68 13.38 24.25 12.17 23.97C10.95 23.69 10.03 23.49 8.69 23.45C7.36 23.41 5.36 23.79 4.18 23.73C3.01 23.66 2.20 23.67 1.65 23.03C1.10 22.39 0.95 20.77 0.88 19.91C0.81 19.04 0.91 18.40 1.23 17.82C1.55 17.24 2.18 16.90 2.79 16.43C3.40 15.97 4.30 15.74 4.88 15.04C5.45 14.35 6.00 13.19 6.26 12.27C6.53 11.34 6.50 10.41 6.47 9.49C6.44 8.56 5.95 7.64 6.09 6.71C6.23 5.79 6.76 4.60 7.31 3.93Z" fill="none" stroke="#595959" stroke-width="2.9" stroke-linejoin="round"/></g>
<g transform="translate(829.50 843.20)"><path d="M7.31 3.93C7.86 3.27 8.58 2.80 9.39 2.72C10.20 2.63 11.24 2.92 12.17 3.41C13.09 3.90 14.02 5.22 14.94 5.67C15.87 6.12 16.88 6.12 17.72 6.09C18.56 6.06 19.17 5.96 19.98 5.50C20.79 5.03 21.60 3.99 22.58 3.31C23.57 2.63 24.93 1.87 25.88 1.43C26.84 1.00 27.47 0.75 28.31 0.70C29.15 0.66 30.14 0.79 30.92 1.16C31.70 1.52 32.45 2.14 33.00 2.89C33.55 3.64 33.87 4.69 34.22 5.67C34.56 6.65 34.90 7.75 35.08 8.79C35.26 9.84 35.35 10.91 35.29 11.92C35.23 12.93 35.12 14.12 34.74 14.87C34.35 15.62 33.75 16.02 33.00 16.43C32.25 16.85 31.10 17.07 30.22 17.37C29.34 17.67 28.21 17.82 27.72 18.24C27.23 18.66 27.23 19.22 27.27 19.91C27.31 20.59 27.88 21.47 27.97 22.34C28.05 23.20 28.04 24.14 27.79 25.11C27.54 26.09 27.11 27.36 26.47 28.17C25.84 28.98 24.97 29.64 23.97 29.98C22.98 30.31 21.43 30.36 20.50 30.18C19.57 30.01 18.88 29.54 18.42 28.93C17.95 28.33 18.13 27.21 17.72 26.57C17.32 25.94 16.91 25.55 15.99 25.11C15.06 24.68 13.38 24.25 12.17 23.97C10.95 23.69 10.03 23.49 8.69 23.45C7.36 23.41 5.36 23.79 4.18 23.73C3.01 23.66 2.20 23.67 1.65 23.03C1.10 22.39 0.95 20.77 0.88 19.91C0.81 19.04 0.91 18.40 1.23 17.82C1.55 17.24 2.18 16.90 2.79 16.43C3.40 15.97 4.30 15.74 4.88 15.04C5.45 14.35 6.00 13.19 6.26 12.27C6.53 11.34 6.50 10.41 6.47 9.49C6.44 8.56 5.95 7.64 6.09 6.71C6.23 5.79 6.76 4.60 7.31 3.93Z" fill="none" stroke="#595959" stroke-width="2.9" stroke-linejoin="round"/></g>
<g transform="translate(868.30 904.40)"><g stroke="#595959" fill="none" stroke-width="2.9" stroke-linecap="round"><ellipse cx="0" cy="0" rx="10.90" ry="8.15"/><path d="M-51.15 -10.00C-49.55 -9.83 -44.43 -9.60 -41.55 -9.00C-38.67 -8.40 -35.65 -7.40 -33.85 -6.40C-32.05 -5.40 -32.55 -3.97 -30.75 -3.00C-28.95 -2.03 -26.28 -1.27 -23.05 -0.60C-19.82 0.07 -13.30 0.73 -11.35 1.00"/><path d="M-26.05 -17.20C-25.30 -16.88 -22.68 -16.25 -21.55 -15.30C-20.42 -14.35 -19.78 -12.87 -19.25 -11.50C-18.72 -10.13 -18.97 -8.25 -18.35 -7.10C-17.73 -5.95 -16.75 -5.23 -15.55 -4.60C-14.35 -3.97 -11.88 -3.52 -11.15 -3.30"/></g></g>
<g transform="translate(868.30 945.50)"><g stroke="#595959" fill="none" stroke-width="2.9" stroke-linecap="round"><ellipse cx="0" cy="0" rx="16.35" ry="8.10"/><path d="M-56.60 -10.00C-55.00 -9.83 -49.88 -9.60 -47.00 -9.00C-44.12 -8.40 -41.10 -7.40 -39.30 -6.40C-37.50 -5.40 -38.00 -3.97 -36.20 -3.00C-34.40 -2.03 -31.73 -1.27 -28.50 -0.60C-25.27 0.07 -18.75 0.73 -16.80 1.00"/><path d="M-31.50 -17.20C-30.75 -16.88 -28.13 -16.25 -27.00 -15.30C-25.87 -14.35 -25.23 -12.87 -24.70 -11.50C-24.17 -10.13 -24.42 -8.25 -23.80 -7.10C-23.18 -5.95 -22.20 -5.23 -21.00 -4.60C-19.80 -3.97 -17.33 -3.52 -16.60 -3.30"/></g></g>
<rect x="820.5" y="1040.70" width="64" height="52.4" fill="#fff"/>
<svg x="820.5" y="1040.70" width="64" height="52.4" viewBox="820.5 1040.70 64 52.4" overflow="hidden">
<g transform="translate(851.40 1066.90)"><g><path d="M-13.3 -8.7L-15.7 -10.3M-7.4 -10.2L-9.1 -12.0M1.5 -10.2L1.5 -12.9M10.5 -10.2L15.8 -14.3M17.0 -8.0L22.9 -11.9M20.5 -5.5L30.0 -8.7M22.5 -2.5L30.6 -3.3M23.0 0.5L30.6 2.3M21.5 4.5L30.0 7.1M17.5 7.0L25.3 11.2M-12.7 9.3L-14.5 12.1M-6.2 10.4L-8.0 13.0M2.1 10.6L4.2 13.6M11.5 9.6L16.4 13.0M-20.5 6.5L-22.8 9.1M-20.5 -6.0L-22.5 -8.0" stroke="#4d4d4d" stroke-width="1.5" fill="none" stroke-linecap="round"/><path d="M-22.5 -1.0L-25.3 -2.4C-27.5 -4.5 -29.6 -7.5 -29.4 -10.5C-28.6 -14 -25 -16 -24.5 -19.5C-24.1 -22 -24.0 -24 -23.9 -25.4" stroke="#3c3c3c" stroke-width="1.3" fill="none" stroke-linecap="round"/><path d="M-22.5 1.2L-25.6 2.1C-27.8 4.2 -29 7 -28.5 10.2C-27.3 13.6 -23.6 16 -22.8 19.5C-22.3 21.8 -22.3 23.5 -22.2 25.0" stroke="#3c3c3c" stroke-width="1.3" fill="none" stroke-linecap="round"/><path d="M-23.5 0C-21.5 -4.5 -16 -9.4 -6 -10.3C4 -10.9 13 -9.6 18 -6.6C22 -4.2 23.5 -1.6 23.5 0.3C23.5 2.6 21.5 5.2 17.5 7.4C12 10.2 3 11.1 -6 10.7C-16 10 -21.5 4.8 -23.5 0Z" fill="url(#ig)" stroke="#5a5a5a" stroke-width="0.9"/><path d="M14.2 -8.4C11.8 -3 11.8 3.6 14.4 8.9C18.5 7.2 22.8 3.8 23.3 0.3C23 -3.2 18.8 -6.6 14.2 -8.4Z" fill="#676767" opacity="0.8"/><path d="M-17.2 -7.7Q-14.8 0 -17.2 8.0M-12.7 -9.1Q-10.3 0 -12.7 9.4M-7.9 -10.0Q-5.5 0 -7.9 10.3M-3.2 -10.4Q-0.8 0 -3.2 10.7M1.5 -10.5Q3.9 0 1.5 10.8M6.0 -10.1Q8.4 0 6.0 10.4M10.8 -9.3Q13.2 0 10.8 9.6" stroke="#525252" stroke-width="1.0" fill="none"/><path d="M17.5 -6.5Q19 0 17.5 7M20.3 -4.3Q21.3 0 20.3 4.8" stroke="#4a4a4a" stroke-width="0.8" fill="none"/></g></g>
</svg>
<rect x="820.5" y="999.10" width="64" height="52.4" fill="#fff"/>
<svg x="820.5" y="999.10" width="64" height="52.4" viewBox="820.5 999.10 64 52.4" overflow="hidden">
<g transform="translate(851.40 1025.30)"><g><path d="M-13.3 -8.7L-15.7 -10.3M-7.4 -10.2L-9.1 -12.0M1.5 -10.2L1.5 -12.9M10.5 -10.2L15.8 -14.3M17.0 -8.0L22.9 -11.9M20.5 -5.5L30.0 -8.7M22.5 -2.5L30.6 -3.3M23.0 0.5L30.6 2.3M21.5 4.5L30.0 7.1M17.5 7.0L25.3 11.2M-12.7 9.3L-14.5 12.1M-6.2 10.4L-8.0 13.0M2.1 10.6L4.2 13.6M11.5 9.6L16.4 13.0M-20.5 6.5L-22.8 9.1M-20.5 -6.0L-22.5 -8.0" stroke="#4d4d4d" stroke-width="1.5" fill="none" stroke-linecap="round"/><path d="M-22.5 -1.0L-25.3 -2.4C-27.5 -4.5 -29.6 -7.5 -29.4 -10.5C-28.6 -14 -25 -16 -24.5 -19.5C-24.1 -22 -24.0 -24 -23.9 -25.4" stroke="#3c3c3c" stroke-width="1.3" fill="none" stroke-linecap="round"/><path d="M-22.5 1.2L-25.6 2.1C-27.8 4.2 -29 7 -28.5 10.2C-27.3 13.6 -23.6 16 -22.8 19.5C-22.3 21.8 -22.3 23.5 -22.2 25.0" stroke="#3c3c3c" stroke-width="1.3" fill="none" stroke-linecap="round"/><path d="M-23.5 0C-21.5 -4.5 -16 -9.4 -6 -10.3C4 -10.9 13 -9.6 18 -6.6C22 -4.2 23.5 -1.6 23.5 0.3C23.5 2.6 21.5 5.2 17.5 7.4C12 10.2 3 11.1 -6 10.7C-16 10 -21.5 4.8 -23.5 0Z" fill="url(#ig)" stroke="#5a5a5a" stroke-width="0.9"/><path d="M14.2 -8.4C11.8 -3 11.8 3.6 14.4 8.9C18.5 7.2 22.8 3.8 23.3 0.3C23 -3.2 18.8 -6.6 14.2 -8.4Z" fill="#676767" opacity="0.8"/><path d="M-17.2 -7.7Q-14.8 0 -17.2 8.0M-12.7 -9.1Q-10.3 0 -12.7 9.4M-7.9 -10.0Q-5.5 0 -7.9 10.3M-3.2 -10.4Q-0.8 0 -3.2 10.7M1.5 -10.5Q3.9 0 1.5 10.8M6.0 -10.1Q8.4 0 6.0 10.4M10.8 -9.3Q13.2 0 10.8 9.6" stroke="#525252" stroke-width="1.0" fill="none"/><path d="M17.5 -6.5Q19 0 17.5 7M20.3 -4.3Q21.3 0 20.3 4.8" stroke="#4a4a4a" stroke-width="0.8" fill="none"/></g></g>
</svg>
<rect x="820.5" y="958.20" width="64" height="52.4" fill="#fff"/>
<svg x="820.5" y="958.20" width="64" height="52.4" viewBox="820.5 958.20 64 52.4" overflow="hidden">
<g transform="translate(851.40 984.40)"><g><path d="M-13.3 -8.7L-15.7 -10.3M-7.4 -10.2L-9.1 -12.0M1.5 -10.2L1.5 -12.9M10.5 -10.2L15.8 -14.3M17.0 -8.0L22.9 -11.9M20.5 -5.5L30.0 -8.7M22.5 -2.5L30.6 -3.3M23.0 0.5L30.6 2.3M21.5 4.5L30.0 7.1M17.5 7.0L25.3 11.2M-12.7 9.3L-14.5 12.1M-6.2 10.4L-8.0 13.0M2.1 10.6L4.2 13.6M11.5 9.6L16.4 13.0M-20.5 6.5L-22.8 9.1M-20.5 -6.0L-22.5 -8.0" stroke="#4d4d4d" stroke-width="1.5" fill="none" stroke-linecap="round"/><path d="M-22.5 -1.0L-25.3 -2.4C-27.5 -4.5 -29.6 -7.5 -29.4 -10.5C-28.6 -14 -25 -16 -24.5 -19.5C-24.1 -22 -24.0 -24 -23.9 -25.4" stroke="#3c3c3c" stroke-width="1.3" fill="none" stroke-linecap="round"/><path d="M-22.5 1.2L-25.6 2.1C-27.8 4.2 -29 7 -28.5 10.2C-27.3 13.6 -23.6 16 -22.8 19.5C-22.3 21.8 -22.3 23.5 -22.2 25.0" stroke="#3c3c3c" stroke-width="1.3" fill="none" stroke-linecap="round"/><path d="M-23.5 0C-21.5 -4.5 -16 -9.4 -6 -10.3C4 -10.9 13 -9.6 18 -6.6C22 -4.2 23.5 -1.6 23.5 0.3C23.5 2.6 21.5 5.2 17.5 7.4C12 10.2 3 11.1 -6 10.7C-16 10 -21.5 4.8 -23.5 0Z" fill="url(#ig)" stroke="#5a5a5a" stroke-width="0.9"/><path d="M14.2 -8.4C11.8 -3 11.8 3.6 14.4 8.9C18.5 7.2 22.8 3.8 23.3 0.3C23 -3.2 18.8 -6.6 14.2 -8.4Z" fill="#676767" opacity="0.8"/><path d="M-17.2 -7.7Q-14.8 0 -17.2 8.0M-12.7 -9.1Q-10.3 0 -12.7 9.4M-7.9 -10.0Q-5.5 0 -7.9 10.3M-3.2 -10.4Q-0.8 0 -3.2 10.7M1.5 -10.5Q3.9 0 1.5 10.8M6.0 -10.1Q8.4 0 6.0 10.4M10.8 -9.3Q13.2 0 10.8 9.6" stroke="#525252" stroke-width="1.0" fill="none"/><path d="M17.5 -6.5Q19 0 17.5 7M20.3 -4.3Q21.3 0 20.3 4.8" stroke="#4a4a4a" stroke-width="0.8" fill="none"/></g></g>
</svg>
<g transform="translate(104.40 5.90) scale(0.840)"><path d="M7.31 3.93C7.86 3.27 8.58 2.80 9.39 2.72C10.20 2.63 11.24 2.92 12.17 3.41C13.09 3.90 14.02 5.22 14.94 5.67C15.87 6.12 16.88 6.12 17.72 6.09C18.56 6.06 19.17 5.96 19.98 5.50C20.79 5.03 21.60 3.99 22.58 3.31C23.57 2.63 24.93 1.87 25.88 1.43C26.84 1.00 27.47 0.75 28.31 0.70C29.15 0.66 30.14 0.79 30.92 1.16C31.70 1.52 32.45 2.14 33.00 2.89C33.55 3.64 33.87 4.69 34.22 5.67C34.56 6.65 34.90 7.75 35.08 8.79C35.26 9.84 35.35 10.91 35.29 11.92C35.23 12.93 35.12 14.12 34.74 14.87C34.35 15.62 33.75 16.02 33.00 16.43C32.25 16.85 31.10 17.07 30.22 17.37C29.34 17.67 28.21 17.82 27.72 18.24C27.23 18.66 27.23 19.22 27.27 19.91C27.31 20.59 27.88 21.47 27.97 22.34C28.05 23.20 28.04 24.14 27.79 25.11C27.54 26.09 27.11 27.36 26.47 28.17C25.84 28.98 24.97 29.64 23.97 29.98C22.98 30.31 21.43 30.36 20.50 30.18C19.57 30.01 18.88 29.54 18.42 28.93C17.95 28.33 18.13 27.21 17.72 26.57C17.32 25.94 16.91 25.55 15.99 25.11C15.06 24.68 13.38 24.25 12.17 23.97C10.95 23.69 10.03 23.49 8.69 23.45C7.36 23.41 5.36 23.79 4.18 23.73C3.01 23.66 2.20 23.67 1.65 23.03C1.10 22.39 0.95 20.77 0.88 19.91C0.81 19.04 0.91 18.40 1.23 17.82C1.55 17.24 2.18 16.90 2.79 16.43C3.40 15.97 4.30 15.74 4.88 15.04C5.45 14.35 6.00 13.19 6.26 12.27C6.53 11.34 6.50 10.41 6.47 9.49C6.44 8.56 5.95 7.64 6.09 6.71C6.23 5.79 6.76 4.60 7.31 3.93Z" fill="none" stroke="#595959" stroke-width="2.9" stroke-linejoin="round"/></g>
<g transform="translate(203.50 17.20) scale(0.840)"><g stroke="#595959" fill="none"><ellipse cx="0" cy="0" rx="16.9" ry="8.0" stroke-width="3.6" fill="#fff"/><path d="M-15.67 -3.00L-18.67 -12.22M-15.67 3.00L-18.67 12.22M-13.50 -4.81L-14.82 -14.22M-13.50 4.81L-14.82 14.22M-10.64 -6.22L-9.02 -15.38M-10.64 6.22L-9.02 15.38M-7.93 -7.06L-3.95 -16.02M-7.93 7.06L-3.95 16.02M-3.22 -7.85L0.98 -16.48M-3.22 7.85L0.98 16.48M2.06 -7.94L6.12 -16.64M2.06 7.94L6.12 16.64M7.14 -7.25L11.35 -15.88M7.14 7.25L11.35 15.88M11.74 -5.75L15.95 -14.38M11.74 5.75L15.95 14.38M15.32 -3.38L20.12 -11.69M15.32 3.38L20.12 11.69M16.64 -1.39L22.67 -8.08M16.64 1.39L22.67 8.08M16.90 0L26.20 0" stroke-width="2.9"/><path d="M-18.67 -12.22L-14.40 -11.25L-9.89 -10.45L-10.64 -6.22L-10.64 6.22L-9.89 10.45L-14.40 11.25L-18.67 12.22L-17.30 0.00Z" fill="#595959" stroke-width="1.0" stroke-linejoin="round"/><ellipse cx="0" cy="0" rx="15.1" ry="6.2" stroke="none" fill="#fff"/></g></g>
<g transform="translate(312.40 24.00) scale(0.840)"><g stroke="#595959" fill="none" stroke-width="2.9" stroke-linecap="round"><ellipse cx="0" cy="0" rx="10.90" ry="8.15"/><path d="M-51.15 -10.00C-49.55 -9.83 -44.43 -9.60 -41.55 -9.00C-38.67 -8.40 -35.65 -7.40 -33.85 -6.40C-32.05 -5.40 -32.55 -3.97 -30.75 -3.00C-28.95 -2.03 -26.28 -1.27 -23.05 -0.60C-19.82 0.07 -13.30 0.73 -11.35 1.00"/><path d="M-26.05 -17.20C-25.30 -16.88 -22.68 -16.25 -21.55 -15.30C-20.42 -14.35 -19.78 -12.87 -19.25 -11.50C-18.72 -10.13 -18.97 -8.25 -18.35 -7.10C-17.73 -5.95 -16.75 -5.23 -15.55 -4.60C-14.35 -3.97 -11.88 -3.52 -11.15 -3.30"/></g></g>
<g transform="translate(428.20 24.00) scale(0.840)"><g stroke="#595959" fill="none" stroke-width="2.9" stroke-linecap="round"><ellipse cx="0" cy="0" rx="16.35" ry="8.10"/><path d="M-56.60 -10.00C-55.00 -9.83 -49.88 -9.60 -47.00 -9.00C-44.12 -8.40 -41.10 -7.40 -39.30 -6.40C-37.50 -5.40 -38.00 -3.97 -36.20 -3.00C-34.40 -2.03 -31.73 -1.27 -28.50 -0.60C-25.27 0.07 -18.75 0.73 -16.80 1.00"/><path d="M-31.50 -17.20C-30.75 -16.88 -28.13 -16.25 -27.00 -15.30C-25.87 -14.35 -25.23 -12.87 -24.70 -11.50C-24.17 -10.13 -24.42 -8.25 -23.80 -7.10C-23.18 -5.95 -22.20 -5.23 -21.00 -4.60C-19.80 -3.97 -17.33 -3.52 -16.60 -3.30"/></g></g>
<g transform="translate(528.30 23.50) scale(0.845)"><g><path d="M-13.3 -8.7L-15.7 -10.3M-7.4 -10.2L-9.1 -12.0M1.5 -10.2L1.5 -12.9M10.5 -10.2L15.8 -14.3M17.0 -8.0L22.9 -11.9M20.5 -5.5L30.0 -8.7M22.5 -2.5L30.6 -3.3M23.0 0.5L30.6 2.3M21.5 4.5L30.0 7.1M17.5 7.0L25.3 11.2M-12.7 9.3L-14.5 12.1M-6.2 10.4L-8.0 13.0M2.1 10.6L4.2 13.6M11.5 9.6L16.4 13.0M-20.5 6.5L-22.8 9.1M-20.5 -6.0L-22.5 -8.0" stroke="#4d4d4d" stroke-width="1.5" fill="none" stroke-linecap="round"/><path d="M-22.5 -1.0L-25.3 -2.4C-27.5 -4.5 -29.6 -7.5 -29.4 -10.5C-28.6 -14 -25 -16 -24.5 -19.5C-24.1 -22 -24.0 -24 -23.9 -25.4" stroke="#3c3c3c" stroke-width="1.3" fill="none" stroke-linecap="round"/><path d="M-22.5 1.2L-25.6 2.1C-27.8 4.2 -29 7 -28.5 10.2C-27.3 13.6 -23.6 16 -22.8 19.5C-22.3 21.8 -22.3 23.5 -22.2 25.0" stroke="#3c3c3c" stroke-width="1.3" fill="none" stroke-linecap="round"/><path d="M-23.5 0C-21.5 -4.5 -16 -9.4 -6 -10.3C4 -10.9 13 -9.6 18 -6.6C22 -4.2 23.5 -1.6 23.5 0.3C23.5 2.6 21.5 5.2 17.5 7.4C12 10.2 3 11.1 -6 10.7C-16 10 -21.5 4.8 -23.5 0Z" fill="url(#ig)" stroke="#5a5a5a" stroke-width="0.9"/><path d="M14.2 -8.4C11.8 -3 11.8 3.6 14.4 8.9C18.5 7.2 22.8 3.8 23.3 0.3C23 -3.2 18.8 -6.6 14.2 -8.4Z" fill="#676767" opacity="0.8"/><path d="M-17.2 -7.7Q-14.8 0 -17.2 8.0M-12.7 -9.1Q-10.3 0 -12.7 9.4M-7.9 -10.0Q-5.5 0 -7.9 10.3M-3.2 -10.4Q-0.8 0 -3.2 10.7M1.5 -10.5Q3.9 0 1.5 10.8M6.0 -10.1Q8.4 0 6.0 10.4M10.8 -9.3Q13.2 0 10.8 9.6" stroke="#525252" stroke-width="1.0" fill="none"/><path d="M17.5 -6.5Q19 0 17.5 7M20.3 -4.3Q21.3 0 20.3 4.8" stroke="#4a4a4a" stroke-width="0.8" fill="none"/></g></g>
</svg>
<g transform="translate(104.40 5.90) scale(0.840)"><path d="M7.31 3.93C7.86 3.27 8.58 2.80 9.39 2.72C10.20 2.63 11.24 2.92 12.17 3.41C13.09 3.90 14.02 5.22 14.94 5.67C15.87 6.12 16.88 6.12 17.72 6.09C18.56 6.06 19.17 5.96 19.98 5.50C20.79 5.03 21.60 3.99 22.58 3.31C23.57 2.63 24.93 1.87 25.88 1.43C26.84 1.00 27.47 0.75 28.31 0.70C29.15 0.66 30.14 0.79 30.92 1.16C31.70 1.52 32.45 2.14 33.00 2.89C33.55 3.64 33.87 4.69 34.22 5.67C34.56 6.65 34.90 7.75 35.08 8.79C35.26 9.84 35.35 10.91 35.29 11.92C35.23 12.93 35.12 14.12 34.74 14.87C34.35 15.62 33.75 16.02 33.00 16.43C32.25 16.85 31.10 17.07 30.22 17.37C29.34 17.67 28.21 17.82 27.72 18.24C27.23 18.66 27.23 19.22 27.27 19.91C27.31 20.59 27.88 21.47 27.97 22.34C28.05 23.20 28.04 24.14 27.79 25.11C27.54 26.09 27.11 27.36 26.47 28.17C25.84 28.98 24.97 29.64 23.97 29.98C22.98 30.31 21.43 30.36 20.50 30.18C19.57 30.01 18.88 29.54 18.42 28.93C17.95 28.33 18.13 27.21 17.72 26.57C17.32 25.94 16.91 25.55 15.99 25.11C15.06 24.68 13.38 24.25 12.17 23.97C10.95 23.69 10.03 23.49 8.69 23.45C7.36 23.41 5.36 23.79 4.18 23.73C3.01 23.66 2.20 23.67 1.65 23.03C1.10 22.39 0.95 20.77 0.88 19.91C0.81 19.04 0.91 18.40 1.23 17.82C1.55 17.24 2.18 16.90 2.79 16.43C3.40 15.97 4.30 15.74 4.88 15.04C5.45 14.35 6.00 13.19 6.26 12.27C6.53 11.34 6.50 10.41 6.47 9.49C6.44 8.56 5.95 7.64 6.09 6.71C6.23 5.79 6.76 4.60 7.31 3.93Z" fill="none" stroke="#595959" stroke-width="2.9" stroke-linejoin="round"/></g>
<g transform="translate(203.50 17.20) scale(0.840)"><g stroke="#595959" fill="none"><ellipse cx="0" cy="0" rx="16.9" ry="8.0" stroke-width="3.6" fill="#fff"/><path d="M-15.67 -3.00L-18.67 -12.22M-15.67 3.00L-18.67 12.22M-13.50 -4.81L-14.82 -14.22M-13.50 4.81L-14.82 14.22M-10.64 -6.22L-9.02 -15.38M-10.64 6.22L-9.02 15.38M-7.93 -7.06L-3.95 -16.02M-7.93 7.06L-3.95 16.02M-3.22 -7.85L0.98 -16.48M-3.22 7.85L0.98 16.48M2.06 -7.94L6.12 -16.64M2.06 7.94L6.12 16.64M7.14 -7.25L11.35 -15.88M7.14 7.25L11.35 15.88M11.74 -5.75L15.95 -14.38M11.74 5.75L15.95 14.38M15.32 -3.38L20.12 -11.69M15.32 3.38L20.12 11.69M16.64 -1.39L22.67 -8.08M16.64 1.39L22.67 8.08M16.90 0L26.20 0" stroke-width="2.9"/><path d="M-18.67 -12.22L-14.40 -11.25L-9.89 -10.45L-10.64 -6.22L-10.64 6.22L-9.89 10.45L-14.40 11.25L-18.67 12.22L-17.30 0.00Z" fill="#595959" stroke-width="1.0" stroke-linejoin="round"/><ellipse cx="0" cy="0" rx="15.1" ry="6.2" stroke="none" fill="#fff"/></g></g>
<g transform="translate(312.40 24.00) scale(0.840)"><g stroke="#595959" fill="none" stroke-width="2.9" stroke-linecap="round"><ellipse cx="0" cy="0" rx="10.90" ry="8.15"/><path d="M-51.15 -10.00C-49.55 -9.83 -44.43 -9.60 -41.55 -9.00C-38.67 -8.40 -35.65 -7.40 -33.85 -6.40C-32.05 -5.40 -32.55 -3.97 -30.75 -3.00C-28.95 -2.03 -26.28 -1.27 -23.05 -0.60C-19.82 0.07 -13.30 0.73 -11.35 1.00"/><path d="M-26.05 -17.20C-25.30 -16.88 -22.68 -16.25 -21.55 -15.30C-20.42 -14.35 -19.78 -12.87 -19.25 -11.50C-18.72 -10.13 -18.97 -8.25 -18.35 -7.10C-17.73 -5.95 -16.75 -5.23 -15.55 -4.60C-14.35 -3.97 -11.88 -3.52 -11.15 -3.30"/></g></g>
<g transform="translate(428.20 24.00) scale(0.840)"><g stroke="#595959" fill="none" stroke-width="2.9" stroke-linecap="round"><ellipse cx="0" cy="0" rx="16.35" ry="8.10"/><path d="M-56.60 -10.00C-55.00 -9.83 -49.88 -9.60 -47.00 -9.00C-44.12 -8.40 -41.10 -7.40 -39.30 -6.40C-37.50 -5.40 -38.00 -3.97 -36.20 -3.00C-34.40 -2.03 -31.73 -1.27 -28.50 -0.60C-25.27 0.07 -18.75 0.73 -16.80 1.00"/><path d="M-31.50 -17.20C-30.75 -16.88 -28.13 -16.25 -27.00 -15.30C-25.87 -14.35 -25.23 -12.87 -24.70 -11.50C-24.17 -10.13 -24.42 -8.25 -23.80 -7.10C-23.18 -5.95 -22.20 -5.23 -21.00 -4.60C-19.80 -3.97 -17.33 -3.52 -16.60 -3.30"/></g></g>
<g transform="translate(528.30 23.50) scale(0.845)"><g><path d="M-13.3 -8.7L-15.7 -10.3M-7.4 -10.2L-9.1 -12.0M1.5 -10.2L1.5 -12.9M10.5 -10.2L15.8 -14.3M17.0 -8.0L22.9 -11.9M20.5 -5.5L30.0 -8.7M22.5 -2.5L30.6 -3.3M23.0 0.5L30.6 2.3M21.5 4.5L30.0 7.1M17.5 7.0L25.3 11.2M-12.7 9.3L-14.5 12.1M-6.2 10.4L-8.0 13.0M2.1 10.6L4.2 13.6M11.5 9.6L16.4 13.0M-20.5 6.5L-22.8 9.1M-20.5 -6.0L-22.5 -8.0" stroke="#4d4d4d" stroke-width="1.5" fill="none" stroke-linecap="round"/><path d="M-22.5 -1.0L-25.3 -2.4C-27.5 -4.5 -29.6 -7.5 -29.4 -10.5C-28.6 -14 -25 -16 -24.5 -19.5C-24.1 -22 -24.0 -24 -23.9 -25.4" stroke="#3c3c3c" stroke-width="1.3" fill="none" stroke-linecap="round"/><path d="M-22.5 1.2L-25.6 2.1C-27.8 4.2 -29 7 -28.5 10.2C-27.3 13.6 -23.6 16 -22.8 19.5C-22.3 21.8 -22.3 23.5 -22.2 25.0" stroke="#3c3c3c" stroke-width="1.3" fill="none" stroke-linecap="round"/><path d="M-23.5 0C-21.5 -4.5 -16 -9.4 -6 -10.3C4 -10.9 13 -9.6 18 -6.6C22 -4.2 23.5 -1.6 23.5 0.3C23.5 2.6 21.5 5.2 17.5 7.4C12 10.2 3 11.1 -6 10.7C-16 10 -21.5 4.8 -23.5 0Z" fill="url(#ig)" stroke="#5a5a5a" stroke-width="0.9"/><path d="M14.2 -8.4C11.8 -3 11.8 3.6 14.4 8.9C18.5 7.2 22.8 3.8 23.3 0.3C23 -3.2 18.8 -6.6 14.2 -8.4Z" fill="#676767" opacity="0.8"/><path d="M-17.2 -7.7Q-14.8 0 -17.2 8.0M-12.7 -9.1Q-10.3 0 -12.7 9.4M-7.9 -10.0Q-5.5 0 -7.9 10.3M-3.2 -10.4Q-0.8 0 -3.2 10.7M1.5 -10.5Q3.9 0 1.5 10.8M6.0 -10.1Q8.4 0 6.0 10.4M10.8 -9.3Q13.2 0 10.8 9.6" stroke="#525252" stroke-width="1.0" fill="none"/><path d="M17.5 -6.5Q19 0 17.5 7M20.3 -4.3Q21.3 0 20.3 4.8" stroke="#4a4a4a" stroke-width="0.8" fill="none"/></g></g>
</svg>
</body></html>
